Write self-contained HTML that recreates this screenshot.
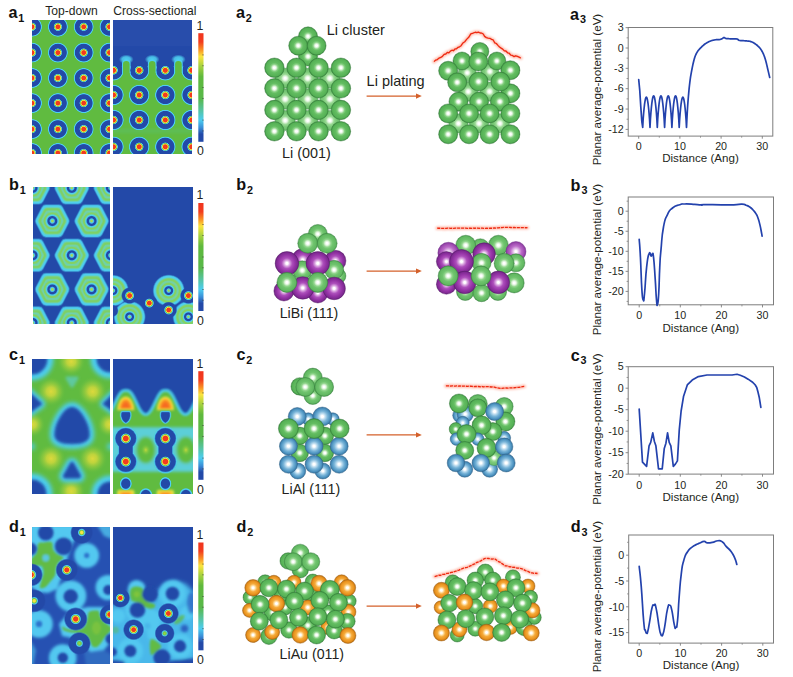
<!DOCTYPE html><html><head><meta charset="utf-8"><title>figure</title><style>html,body{margin:0;padding:0;background:#fff}svg{display:block}text{font-family:"Liberation Sans", sans-serif}</style></head><body>
<svg width="793" height="677" viewBox="0 0 793 677">
<defs><radialGradient id="gLi" cx="0.5" cy="0.5" r="0.5"><stop offset="0" stop-color="#ffffff"/><stop offset="0.1" stop-color="#ffffff"/><stop offset="0.22" stop-color="#d4efd0"/><stop offset="0.36" stop-color="#88d084"/><stop offset="0.52" stop-color="#63bd61"/><stop offset="0.85" stop-color="#56b156"/><stop offset="0.94" stop-color="#459b49"/><stop offset="1" stop-color="#36823b"/></radialGradient><radialGradient id="gLiB" cx="0.5" cy="0.5" r="0.5"><stop offset="0" stop-color="#ffffff"/><stop offset="0.1" stop-color="#ffffff"/><stop offset="0.24" stop-color="#dcf3d8"/><stop offset="0.4" stop-color="#9ad995"/><stop offset="0.6" stop-color="#7dcb7a"/><stop offset="0.88" stop-color="#6fc06f"/><stop offset="1" stop-color="#5cac5f"/></radialGradient><radialGradient id="gLiM" cx="0.5" cy="0.5" r="0.5"><stop offset="0" stop-color="#ffffff"/><stop offset="0.1" stop-color="#ffffff"/><stop offset="0.23" stop-color="#d8f1d4"/><stop offset="0.38" stop-color="#92d58d"/><stop offset="0.56" stop-color="#70c46e"/><stop offset="0.86" stop-color="#62b862"/><stop offset="0.95" stop-color="#50a353"/><stop offset="1" stop-color="#428d46"/></radialGradient><radialGradient id="gBi" cx="0.5" cy="0.5" r="0.5"><stop offset="0" stop-color="#ffffff"/><stop offset="0.09" stop-color="#ffffff"/><stop offset="0.24" stop-color="#dcaae2"/><stop offset="0.45" stop-color="#ad4fbb"/><stop offset="0.7" stop-color="#9534a6"/><stop offset="0.9" stop-color="#7f2a92"/><stop offset="1" stop-color="#66207a"/></radialGradient><radialGradient id="gBiB" cx="0.5" cy="0.5" r="0.5"><stop offset="0" stop-color="#ffffff"/><stop offset="0.1" stop-color="#ffffff"/><stop offset="0.28" stop-color="#e4c0ea"/><stop offset="0.55" stop-color="#bb6cc8"/><stop offset="0.8" stop-color="#a34fb4"/><stop offset="0.93" stop-color="#9040a2"/><stop offset="1" stop-color="#80359a"/></radialGradient><radialGradient id="gAl" cx="0.5" cy="0.5" r="0.5"><stop offset="0" stop-color="#ffffff"/><stop offset="0.12" stop-color="#ffffff"/><stop offset="0.3" stop-color="#c0def0"/><stop offset="0.55" stop-color="#78b4d8"/><stop offset="0.8" stop-color="#4f95c2"/><stop offset="0.93" stop-color="#3f7fac"/><stop offset="1" stop-color="#356e98"/></radialGradient><radialGradient id="gAu" cx="0.5" cy="0.5" r="0.5"><stop offset="0" stop-color="#ffffff"/><stop offset="0.12" stop-color="#ffffff"/><stop offset="0.26" stop-color="#ffe2a8"/><stop offset="0.48" stop-color="#f5ab3c"/><stop offset="0.78" stop-color="#ea931e"/><stop offset="0.93" stop-color="#cc7c17"/><stop offset="1" stop-color="#b06810"/></radialGradient><linearGradient id="cbar" x1="0" y1="0" x2="0" y2="1"><stop offset="0" stop-color="#f0341e"/><stop offset="0.08" stop-color="#f23c1e"/><stop offset="0.15" stop-color="#f98f24"/><stop offset="0.215" stop-color="#fbe43e"/><stop offset="0.30" stop-color="#a9d33f"/><stop offset="0.40" stop-color="#5fb93d"/><stop offset="0.60" stop-color="#58b84a"/><stop offset="0.70" stop-color="#56c39a"/><stop offset="0.80" stop-color="#4ccdf0"/><stop offset="0.87" stop-color="#3a8fd8"/><stop offset="0.93" stop-color="#2349a8"/><stop offset="1" stop-color="#2349a8"/></linearGradient><filter id="glow" filterUnits="userSpaceOnUse" x="0" y="0" width="793" height="677"><feGaussianBlur stdDeviation="1.1"/></filter><filter id="b03" filterUnits="userSpaceOnUse" x="0" y="0" width="793" height="677"><feGaussianBlur stdDeviation="0.85"/></filter><filter id="b05" filterUnits="userSpaceOnUse" x="0" y="0" width="793" height="677"><feGaussianBlur stdDeviation="0.85"/></filter><filter id="b07" filterUnits="userSpaceOnUse" x="0" y="0" width="793" height="677"><feGaussianBlur stdDeviation="0.9"/></filter><filter id="b1" filterUnits="userSpaceOnUse" x="0" y="0" width="793" height="677"><feGaussianBlur stdDeviation="1.0"/></filter><filter id="b15" filterUnits="userSpaceOnUse" x="0" y="0" width="793" height="677"><feGaussianBlur stdDeviation="1.5"/></filter><filter id="b2" filterUnits="userSpaceOnUse" x="0" y="0" width="793" height="677"><feGaussianBlur stdDeviation="2.0"/></filter><filter id="b25" filterUnits="userSpaceOnUse" x="0" y="0" width="793" height="677"><feGaussianBlur stdDeviation="2.5"/></filter><filter id="b3" filterUnits="userSpaceOnUse" x="0" y="0" width="793" height="677"><feGaussianBlur stdDeviation="3.0"/></filter><clipPath id="cpa1T"><rect x="32" y="20" width="78" height="134"/></clipPath><clipPath id="cpa1C"><rect x="113" y="20" width="79" height="134"/></clipPath><clipPath id="cpb1T"><rect x="33" y="187" width="77" height="137"/></clipPath><clipPath id="cpb1C"><rect x="113" y="187" width="80" height="137"/></clipPath><clipPath id="cpc1T"><rect x="32" y="359" width="78" height="135"/></clipPath><clipPath id="cpc1C"><rect x="113" y="359" width="80" height="135"/></clipPath><clipPath id="cpd1T"><rect x="32" y="527" width="78" height="137"/></clipPath><clipPath id="cpd1C"><rect x="113" y="527" width="80" height="136"/></clipPath><radialGradient id="eA"><stop offset="0" stop-color="#f23a1e"/><stop offset="0.19" stop-color="#f23a1e"/><stop offset="0.265" stop-color="#f7e542"/><stop offset="0.325" stop-color="#7cc840"/><stop offset="0.375" stop-color="#4ecff0"/><stop offset="0.43" stop-color="#2349a8"/><stop offset="0.82" stop-color="#2349a8"/><stop offset="0.895" stop-color="#4ecff0"/><stop offset="0.93" stop-color="#4ecff0"/><stop offset="1" stop-color="#5cc8a0" stop-opacity="0"/></radialGradient><radialGradient id="eA2"><stop offset="0" stop-color="#f23a1e"/><stop offset="0.23" stop-color="#f23a1e"/><stop offset="0.32" stop-color="#f7e542"/><stop offset="0.39" stop-color="#7cc840"/><stop offset="0.45" stop-color="#4ecff0"/><stop offset="0.52" stop-color="#2349a8"/><stop offset="0.97" stop-color="#2349a8"/><stop offset="1" stop-color="#2349a8" stop-opacity="0"/></radialGradient><radialGradient id="eB"><stop offset="0" stop-color="#f23a1e"/><stop offset="0.23" stop-color="#f23a1e"/><stop offset="0.32" stop-color="#f7e542"/><stop offset="0.39" stop-color="#7cc840"/><stop offset="0.46" stop-color="#4ecff0"/><stop offset="0.56" stop-color="#2349a8"/><stop offset="0.84" stop-color="#2349a8"/><stop offset="1" stop-color="#2349a8" stop-opacity="0"/></radialGradient><radialGradient id="eY"><stop offset="0" stop-color="#dcd93c" stop-opacity="1"/><stop offset="0.3" stop-color="#c8d63c" stop-opacity="0.9"/><stop offset="0.65" stop-color="#98cc3e" stop-opacity="0.5"/><stop offset="1" stop-color="#60bb40" stop-opacity="0"/></radialGradient><radialGradient id="eYs"><stop offset="0" stop-color="#c4d83c" stop-opacity="0.95"/><stop offset="0.45" stop-color="#90cc40" stop-opacity="0.6"/><stop offset="1" stop-color="#60bb40" stop-opacity="0"/></radialGradient><radialGradient id="eC"><stop offset="0" stop-color="#4ecff0" stop-opacity="1"/><stop offset="0.55" stop-color="#4ecff0" stop-opacity="0.85"/><stop offset="1" stop-color="#4ecff0" stop-opacity="0"/></radialGradient><radialGradient id="eBl"><stop offset="0" stop-color="#2349a8"/><stop offset="0.78" stop-color="#2349a8"/><stop offset="1" stop-color="#2349a8" stop-opacity="0"/></radialGradient><radialGradient id="eD"><stop offset="0" stop-color="#f23a1e"/><stop offset="0.18" stop-color="#f23a1e"/><stop offset="0.255" stop-color="#f7e542"/><stop offset="0.32" stop-color="#7cc840"/><stop offset="0.38" stop-color="#4ecff0"/><stop offset="0.46" stop-color="#2349a8"/><stop offset="0.86" stop-color="#2349a8"/><stop offset="1" stop-color="#2349a8" stop-opacity="0"/></radialGradient><radialGradient id="eDy"><stop offset="0" stop-color="#f7e542"/><stop offset="0.1" stop-color="#f7e542"/><stop offset="0.19" stop-color="#7cc840"/><stop offset="0.27" stop-color="#4ecff0"/><stop offset="0.36" stop-color="#2349a8"/><stop offset="0.86" stop-color="#2349a8"/><stop offset="1" stop-color="#2349a8" stop-opacity="0"/></radialGradient><radialGradient id="eSb"><stop offset="0" stop-color="#2349a8"/><stop offset="0.66" stop-color="#2349a8"/><stop offset="0.8" stop-color="#4ecff0"/><stop offset="0.88" stop-color="#4ecff0"/><stop offset="1" stop-color="#5cc8a0" stop-opacity="0"/></radialGradient><radialGradient id="eCore"><stop offset="0" stop-color="#f23a1e"/><stop offset="0.44" stop-color="#f23a1e"/><stop offset="0.61" stop-color="#f7e542"/><stop offset="0.75" stop-color="#7cc840"/><stop offset="0.86" stop-color="#4ecff0"/><stop offset="1" stop-color="#2349a8"/></radialGradient><radialGradient id="hexC" gradientUnits="userSpaceOnUse" cx="0" cy="0" r="8.6"><stop offset="0" stop-color="#b4dc40"/><stop offset="0.14" stop-color="#8cd680"/><stop offset="0.21" stop-color="#4ecff0"/><stop offset="0.29" stop-color="#3d99d3"/><stop offset="0.36" stop-color="#2349a8"/><stop offset="0.52" stop-color="#2349a8"/><stop offset="0.58" stop-color="#388ccc"/><stop offset="0.65" stop-color="#4ecff0"/><stop offset="0.74" stop-color="#66d1c0"/><stop offset="0.84" stop-color="#84d262"/><stop offset="1" stop-color="#84d262"/></radialGradient><radialGradient id="blobG"><stop offset="0" stop-color="#b4dc40"/><stop offset="0.06" stop-color="#8cd680"/><stop offset="0.1" stop-color="#4ecff0"/><stop offset="0.13" stop-color="#3d99d3"/><stop offset="0.16" stop-color="#2349a8"/><stop offset="0.24" stop-color="#2349a8"/><stop offset="0.27" stop-color="#388ccc"/><stop offset="0.3" stop-color="#4ecff0"/><stop offset="0.34" stop-color="#66d1c0"/><stop offset="0.38" stop-color="#84d262"/><stop offset="0.45" stop-color="#84d262"/><stop offset="0.49" stop-color="#78d290"/><stop offset="0.54" stop-color="#70d2ac"/><stop offset="0.59" stop-color="#78d298"/><stop offset="0.64" stop-color="#84d262"/><stop offset="0.7" stop-color="#84d262"/><stop offset="0.74" stop-color="#78d284"/><stop offset="0.79" stop-color="#62d1c8"/><stop offset="0.83" stop-color="#4ecff0"/><stop offset="0.87" stop-color="#4ecff0"/><stop offset="0.91" stop-color="#4ecff0" stop-opacity="0.8"/><stop offset="0.95" stop-color="#4ecff0" stop-opacity="0.3"/><stop offset="1" stop-color="#4ecff0" stop-opacity="0"/></radialGradient><radialGradient id="eDg"><stop offset="0" stop-color="#a8d440"/><stop offset="0.08" stop-color="#8ccc40"/><stop offset="0.17" stop-color="#6cc860"/><stop offset="0.25" stop-color="#4ecff0"/><stop offset="0.34" stop-color="#2349a8"/><stop offset="0.86" stop-color="#2349a8"/><stop offset="1" stop-color="#2349a8" stop-opacity="0"/></radialGradient></defs>
<rect width="793" height="677" fill="#ffffff"/>
<g clip-path="url(#cpa1T)" >
<rect x="32" y="20" width="78" height="134" fill="#60bb40"/>
<circle cx="32" cy="26.8" r="10.3" fill="url(#eA)" />
<circle cx="57.9" cy="26.8" r="10.3" fill="url(#eA)" />
<circle cx="83.7" cy="26.8" r="10.3" fill="url(#eA)" />
<circle cx="109.5" cy="26.8" r="10.3" fill="url(#eA)" />
<circle cx="32" cy="52.6" r="10.3" fill="url(#eA)" />
<circle cx="57.9" cy="52.6" r="10.3" fill="url(#eA)" />
<circle cx="83.7" cy="52.6" r="10.3" fill="url(#eA)" />
<circle cx="109.5" cy="52.6" r="10.3" fill="url(#eA)" />
<circle cx="32" cy="78" r="10.3" fill="url(#eA)" />
<circle cx="57.9" cy="78" r="10.3" fill="url(#eA)" />
<circle cx="83.7" cy="78" r="10.3" fill="url(#eA)" />
<circle cx="109.5" cy="78" r="10.3" fill="url(#eA)" />
<circle cx="32" cy="103.1" r="10.3" fill="url(#eA)" />
<circle cx="57.9" cy="103.1" r="10.3" fill="url(#eA)" />
<circle cx="83.7" cy="103.1" r="10.3" fill="url(#eA)" />
<circle cx="109.5" cy="103.1" r="10.3" fill="url(#eA)" />
<circle cx="32" cy="129.1" r="10.3" fill="url(#eA)" />
<circle cx="57.9" cy="129.1" r="10.3" fill="url(#eA)" />
<circle cx="83.7" cy="129.1" r="10.3" fill="url(#eA)" />
<circle cx="109.5" cy="129.1" r="10.3" fill="url(#eA)" />
<circle cx="32" cy="153" r="10.3" fill="url(#eA)" />
<circle cx="57.9" cy="153" r="10.3" fill="url(#eA)" />
<circle cx="83.7" cy="153" r="10.3" fill="url(#eA)" />
<circle cx="109.5" cy="153" r="10.3" fill="url(#eA)" />
</g>
<g clip-path="url(#cpa1C)" >
<rect x="113" y="20" width="79" height="134" fill="#60bb40"/>
<circle cx="113.5" cy="70.3" r="10.6" fill="url(#eA)" />
<circle cx="139.2" cy="70.3" r="10.6" fill="url(#eA)" />
<circle cx="165.3" cy="70.3" r="10.6" fill="url(#eA)" />
<circle cx="191.6" cy="70.3" r="10.6" fill="url(#eA)" />
<rect x="113" y="20" width="79" height="27" fill="#284dab"/>
<rect x="113" y="46.2" width="79" height="20.3" fill="#2349a8"/>
<ellipse cx="126.3" cy="59.4" rx="7.4" ry="4.8" fill="url(#eC)" />
<path d="M122,73 L122,63.5 Q122,59.6 126.3,59.6 Q130.6,59.6 130.6,63.5 L130.6,73 Z" fill="#4ecff0"/>
<path d="M123,74 L123,64.2 Q123,60.9 126.3,60.9 Q129.6,60.9 129.6,64.2 L129.6,74 Z" fill="#60bb40"/>
<ellipse cx="152.2" cy="59.4" rx="7.4" ry="4.8" fill="url(#eC)" />
<path d="M147.9,73 L147.9,63.5 Q147.9,59.6 152.2,59.6 Q156.5,59.6 156.5,63.5 L156.5,73 Z" fill="#4ecff0"/>
<path d="M148.9,74 L148.9,64.2 Q148.9,60.9 152.2,60.9 Q155.5,60.9 155.5,64.2 L155.5,74 Z" fill="#60bb40"/>
<ellipse cx="178.4" cy="59.4" rx="7.4" ry="4.8" fill="url(#eC)" />
<path d="M174.1,73 L174.1,63.5 Q174.1,59.6 178.4,59.6 Q182.7,59.6 182.7,63.5 L182.7,73 Z" fill="#4ecff0"/>
<path d="M175.1,74 L175.1,64.2 Q175.1,60.9 178.4,60.9 Q181.7,60.9 181.7,64.2 L181.7,74 Z" fill="#60bb40"/>
<circle cx="113.5" cy="70.3" r="8.9" fill="url(#eA2)" />
<circle cx="139.2" cy="70.3" r="8.9" fill="url(#eA2)" />
<circle cx="165.3" cy="70.3" r="8.9" fill="url(#eA2)" />
<circle cx="191.6" cy="70.3" r="8.9" fill="url(#eA2)" />
<circle cx="113.5" cy="95" r="10.6" fill="url(#eA)" />
<circle cx="139.2" cy="95" r="10.6" fill="url(#eA)" />
<circle cx="165.3" cy="95" r="10.6" fill="url(#eA)" />
<circle cx="191.6" cy="95" r="10.6" fill="url(#eA)" />
<circle cx="113.5" cy="120" r="10.6" fill="url(#eA)" />
<circle cx="139.2" cy="120" r="10.6" fill="url(#eA)" />
<circle cx="165.3" cy="120" r="10.6" fill="url(#eA)" />
<circle cx="191.6" cy="120" r="10.6" fill="url(#eA)" />
<circle cx="113.5" cy="146.8" r="10.6" fill="url(#eA)" />
<circle cx="139.2" cy="146.8" r="10.6" fill="url(#eA)" />
<circle cx="165.3" cy="146.8" r="10.6" fill="url(#eA)" />
<circle cx="191.6" cy="146.8" r="10.6" fill="url(#eA)" />
<rect x="113" y="128.5" width="79" height="5" fill="#4ecff0" opacity="0.10" filter="url(#b1)"/>
</g>
<g clip-path="url(#cpb1T)" >
<rect x="33" y="187" width="77" height="137" fill="#2349a8"/>
<g transform="translate(32.6,187.9)"><polygon points="-13.29,0 -6.8,-12.49 6.8,-12.49 13.29,0 6.8,12.49 -6.8,12.49" fill="#2857b0" stroke="#2857b0" stroke-width="9.2" stroke-linejoin="round"/><polygon points="-12.94,0 -6.62,-12.16 6.62,-12.16 12.94,0 6.62,12.16 -6.62,12.16" fill="#2d68b9" stroke="#2d68b9" stroke-width="9.2" stroke-linejoin="round"/><polygon points="-12.59,0 -6.45,-11.83 6.45,-11.83 12.59,0 6.45,11.83 -6.45,11.83" fill="#3684c8" stroke="#3684c8" stroke-width="9.2" stroke-linejoin="round"/><polygon points="-12.24,0 -6.27,-11.5 6.27,-11.5 12.24,0 6.27,11.5 -6.27,11.5" fill="#40a3d8" stroke="#40a3d8" stroke-width="9.2" stroke-linejoin="round"/><polygon points="-11.89,0 -6.09,-11.17 6.09,-11.17 11.89,0 6.09,11.17 -6.09,11.17" fill="#47b8e3" stroke="#47b8e3" stroke-width="9.2" stroke-linejoin="round"/><polygon points="-11.6,0 -5.94,-10.9 5.94,-10.9 11.6,0 5.94,10.9 -5.94,10.9" fill="#4dccee" stroke="#4dccee" stroke-width="9.1" stroke-linejoin="round"/><polygon points="-11.36,0 -5.81,-10.67 5.81,-10.67 11.36,0 5.81,10.67 -5.81,10.67" fill="#4ecff0" stroke="#4ecff0" stroke-width="8.91" stroke-linejoin="round"/><polygon points="-11.11,0 -5.69,-10.45 5.69,-10.45 11.11,0 5.69,10.45 -5.69,10.45" fill="#4ecff0" stroke="#4ecff0" stroke-width="8.72" stroke-linejoin="round"/><polygon points="-10.87,0 -5.57,-10.22 5.57,-10.22 10.87,0 5.57,10.22 -5.57,10.22" fill="#52cfe7" stroke="#52cfe7" stroke-width="8.53" stroke-linejoin="round"/><polygon points="-10.63,0 -5.44,-10 5.44,-10 10.63,0 5.44,10 -5.44,10" fill="#5ad0d8" stroke="#5ad0d8" stroke-width="8.34" stroke-linejoin="round"/><polygon points="-10.39,0 -5.32,-9.77 5.32,-9.77 10.39,0 5.32,9.77 -5.32,9.77" fill="#62d1c8" stroke="#62d1c8" stroke-width="8.15" stroke-linejoin="round"/><polygon points="-10.15,0 -5.2,-9.54 5.2,-9.54 10.15,0 5.2,9.54 -5.2,9.54" fill="#6cd1aa" stroke="#6cd1aa" stroke-width="7.96" stroke-linejoin="round"/><polygon points="-9.77,0 -5,-9.19 5,-9.19 9.77,0 5,9.19 -5,9.19" fill="#79d280" stroke="#79d280" stroke-width="7.67" stroke-linejoin="round"/><polygon points="-9.39,0 -4.81,-8.83 4.81,-8.83 9.39,0 4.81,8.83 -4.81,8.83" fill="#7dd06c" stroke="#7dd06c" stroke-width="7.37" stroke-linejoin="round"/><polygon points="-9.02,0 -4.62,-8.47 4.62,-8.47 9.02,0 4.62,8.47 -4.62,8.47" fill="#7ed066" stroke="#7ed066" stroke-width="7.07" stroke-linejoin="round"/><polygon points="-8.64,0 -4.42,-8.12 4.42,-8.12 8.64,0 4.42,8.12 -4.42,8.12" fill="#7ed066" stroke="#7ed066" stroke-width="6.78" stroke-linejoin="round"/><polygon points="-8.26,0 -4.23,-7.76 4.23,-7.76 8.26,0 4.23,7.76 -4.23,7.76" fill="#7bd179" stroke="#7bd179" stroke-width="6.48" stroke-linejoin="round"/><polygon points="-7.88,0 -4.03,-7.41 4.03,-7.41 7.88,0 4.03,7.41 -4.03,7.41" fill="#75d29d" stroke="#75d29d" stroke-width="6.18" stroke-linejoin="round"/><polygon points="-7.5,0 -3.84,-7.05 3.84,-7.05 7.5,0 3.84,7.05 -3.84,7.05" fill="#70d2aa" stroke="#70d2aa" stroke-width="5.89" stroke-linejoin="round"/><polygon points="-7.12,0 -3.65,-6.7 3.65,-6.7 7.12,0 3.65,6.7 -3.65,6.7" fill="#6cd2b2" stroke="#6cd2b2" stroke-width="5.59" stroke-linejoin="round"/><polygon points="-6.74,0 -3.45,-6.34 3.45,-6.34 6.74,0 3.45,6.34 -3.45,6.34" fill="#71d2a1" stroke="#71d2a1" stroke-width="5.29" stroke-linejoin="round"/><polygon points="-6.37,0 -3.26,-5.98 3.26,-5.98 6.37,0 3.26,5.98 -3.26,5.98" fill="#78d289" stroke="#78d289" stroke-width="4.99" stroke-linejoin="round"/><circle r="8.6" fill="url(#hexC)"/></g>
<g transform="translate(71.8,187.9)"><polygon points="-13.29,0 -6.8,-12.49 6.8,-12.49 13.29,0 6.8,12.49 -6.8,12.49" fill="#2857b0" stroke="#2857b0" stroke-width="9.2" stroke-linejoin="round"/><polygon points="-12.94,0 -6.62,-12.16 6.62,-12.16 12.94,0 6.62,12.16 -6.62,12.16" fill="#2d68b9" stroke="#2d68b9" stroke-width="9.2" stroke-linejoin="round"/><polygon points="-12.59,0 -6.45,-11.83 6.45,-11.83 12.59,0 6.45,11.83 -6.45,11.83" fill="#3684c8" stroke="#3684c8" stroke-width="9.2" stroke-linejoin="round"/><polygon points="-12.24,0 -6.27,-11.5 6.27,-11.5 12.24,0 6.27,11.5 -6.27,11.5" fill="#40a3d8" stroke="#40a3d8" stroke-width="9.2" stroke-linejoin="round"/><polygon points="-11.89,0 -6.09,-11.17 6.09,-11.17 11.89,0 6.09,11.17 -6.09,11.17" fill="#47b8e3" stroke="#47b8e3" stroke-width="9.2" stroke-linejoin="round"/><polygon points="-11.6,0 -5.94,-10.9 5.94,-10.9 11.6,0 5.94,10.9 -5.94,10.9" fill="#4dccee" stroke="#4dccee" stroke-width="9.1" stroke-linejoin="round"/><polygon points="-11.36,0 -5.81,-10.67 5.81,-10.67 11.36,0 5.81,10.67 -5.81,10.67" fill="#4ecff0" stroke="#4ecff0" stroke-width="8.91" stroke-linejoin="round"/><polygon points="-11.11,0 -5.69,-10.45 5.69,-10.45 11.11,0 5.69,10.45 -5.69,10.45" fill="#4ecff0" stroke="#4ecff0" stroke-width="8.72" stroke-linejoin="round"/><polygon points="-10.87,0 -5.57,-10.22 5.57,-10.22 10.87,0 5.57,10.22 -5.57,10.22" fill="#52cfe7" stroke="#52cfe7" stroke-width="8.53" stroke-linejoin="round"/><polygon points="-10.63,0 -5.44,-10 5.44,-10 10.63,0 5.44,10 -5.44,10" fill="#5ad0d8" stroke="#5ad0d8" stroke-width="8.34" stroke-linejoin="round"/><polygon points="-10.39,0 -5.32,-9.77 5.32,-9.77 10.39,0 5.32,9.77 -5.32,9.77" fill="#62d1c8" stroke="#62d1c8" stroke-width="8.15" stroke-linejoin="round"/><polygon points="-10.15,0 -5.2,-9.54 5.2,-9.54 10.15,0 5.2,9.54 -5.2,9.54" fill="#6cd1aa" stroke="#6cd1aa" stroke-width="7.96" stroke-linejoin="round"/><polygon points="-9.77,0 -5,-9.19 5,-9.19 9.77,0 5,9.19 -5,9.19" fill="#79d280" stroke="#79d280" stroke-width="7.67" stroke-linejoin="round"/><polygon points="-9.39,0 -4.81,-8.83 4.81,-8.83 9.39,0 4.81,8.83 -4.81,8.83" fill="#7dd06c" stroke="#7dd06c" stroke-width="7.37" stroke-linejoin="round"/><polygon points="-9.02,0 -4.62,-8.47 4.62,-8.47 9.02,0 4.62,8.47 -4.62,8.47" fill="#7ed066" stroke="#7ed066" stroke-width="7.07" stroke-linejoin="round"/><polygon points="-8.64,0 -4.42,-8.12 4.42,-8.12 8.64,0 4.42,8.12 -4.42,8.12" fill="#7ed066" stroke="#7ed066" stroke-width="6.78" stroke-linejoin="round"/><polygon points="-8.26,0 -4.23,-7.76 4.23,-7.76 8.26,0 4.23,7.76 -4.23,7.76" fill="#7bd179" stroke="#7bd179" stroke-width="6.48" stroke-linejoin="round"/><polygon points="-7.88,0 -4.03,-7.41 4.03,-7.41 7.88,0 4.03,7.41 -4.03,7.41" fill="#75d29d" stroke="#75d29d" stroke-width="6.18" stroke-linejoin="round"/><polygon points="-7.5,0 -3.84,-7.05 3.84,-7.05 7.5,0 3.84,7.05 -3.84,7.05" fill="#70d2aa" stroke="#70d2aa" stroke-width="5.89" stroke-linejoin="round"/><polygon points="-7.12,0 -3.65,-6.7 3.65,-6.7 7.12,0 3.65,6.7 -3.65,6.7" fill="#6cd2b2" stroke="#6cd2b2" stroke-width="5.59" stroke-linejoin="round"/><polygon points="-6.74,0 -3.45,-6.34 3.45,-6.34 6.74,0 3.45,6.34 -3.45,6.34" fill="#71d2a1" stroke="#71d2a1" stroke-width="5.29" stroke-linejoin="round"/><polygon points="-6.37,0 -3.26,-5.98 3.26,-5.98 6.37,0 3.26,5.98 -3.26,5.98" fill="#78d289" stroke="#78d289" stroke-width="4.99" stroke-linejoin="round"/><circle r="8.6" fill="url(#hexC)"/></g>
<g transform="translate(110.9,187.9)"><polygon points="-13.29,0 -6.8,-12.49 6.8,-12.49 13.29,0 6.8,12.49 -6.8,12.49" fill="#2857b0" stroke="#2857b0" stroke-width="9.2" stroke-linejoin="round"/><polygon points="-12.94,0 -6.62,-12.16 6.62,-12.16 12.94,0 6.62,12.16 -6.62,12.16" fill="#2d68b9" stroke="#2d68b9" stroke-width="9.2" stroke-linejoin="round"/><polygon points="-12.59,0 -6.45,-11.83 6.45,-11.83 12.59,0 6.45,11.83 -6.45,11.83" fill="#3684c8" stroke="#3684c8" stroke-width="9.2" stroke-linejoin="round"/><polygon points="-12.24,0 -6.27,-11.5 6.27,-11.5 12.24,0 6.27,11.5 -6.27,11.5" fill="#40a3d8" stroke="#40a3d8" stroke-width="9.2" stroke-linejoin="round"/><polygon points="-11.89,0 -6.09,-11.17 6.09,-11.17 11.89,0 6.09,11.17 -6.09,11.17" fill="#47b8e3" stroke="#47b8e3" stroke-width="9.2" stroke-linejoin="round"/><polygon points="-11.6,0 -5.94,-10.9 5.94,-10.9 11.6,0 5.94,10.9 -5.94,10.9" fill="#4dccee" stroke="#4dccee" stroke-width="9.1" stroke-linejoin="round"/><polygon points="-11.36,0 -5.81,-10.67 5.81,-10.67 11.36,0 5.81,10.67 -5.81,10.67" fill="#4ecff0" stroke="#4ecff0" stroke-width="8.91" stroke-linejoin="round"/><polygon points="-11.11,0 -5.69,-10.45 5.69,-10.45 11.11,0 5.69,10.45 -5.69,10.45" fill="#4ecff0" stroke="#4ecff0" stroke-width="8.72" stroke-linejoin="round"/><polygon points="-10.87,0 -5.57,-10.22 5.57,-10.22 10.87,0 5.57,10.22 -5.57,10.22" fill="#52cfe7" stroke="#52cfe7" stroke-width="8.53" stroke-linejoin="round"/><polygon points="-10.63,0 -5.44,-10 5.44,-10 10.63,0 5.44,10 -5.44,10" fill="#5ad0d8" stroke="#5ad0d8" stroke-width="8.34" stroke-linejoin="round"/><polygon points="-10.39,0 -5.32,-9.77 5.32,-9.77 10.39,0 5.32,9.77 -5.32,9.77" fill="#62d1c8" stroke="#62d1c8" stroke-width="8.15" stroke-linejoin="round"/><polygon points="-10.15,0 -5.2,-9.54 5.2,-9.54 10.15,0 5.2,9.54 -5.2,9.54" fill="#6cd1aa" stroke="#6cd1aa" stroke-width="7.96" stroke-linejoin="round"/><polygon points="-9.77,0 -5,-9.19 5,-9.19 9.77,0 5,9.19 -5,9.19" fill="#79d280" stroke="#79d280" stroke-width="7.67" stroke-linejoin="round"/><polygon points="-9.39,0 -4.81,-8.83 4.81,-8.83 9.39,0 4.81,8.83 -4.81,8.83" fill="#7dd06c" stroke="#7dd06c" stroke-width="7.37" stroke-linejoin="round"/><polygon points="-9.02,0 -4.62,-8.47 4.62,-8.47 9.02,0 4.62,8.47 -4.62,8.47" fill="#7ed066" stroke="#7ed066" stroke-width="7.07" stroke-linejoin="round"/><polygon points="-8.64,0 -4.42,-8.12 4.42,-8.12 8.64,0 4.42,8.12 -4.42,8.12" fill="#7ed066" stroke="#7ed066" stroke-width="6.78" stroke-linejoin="round"/><polygon points="-8.26,0 -4.23,-7.76 4.23,-7.76 8.26,0 4.23,7.76 -4.23,7.76" fill="#7bd179" stroke="#7bd179" stroke-width="6.48" stroke-linejoin="round"/><polygon points="-7.88,0 -4.03,-7.41 4.03,-7.41 7.88,0 4.03,7.41 -4.03,7.41" fill="#75d29d" stroke="#75d29d" stroke-width="6.18" stroke-linejoin="round"/><polygon points="-7.5,0 -3.84,-7.05 3.84,-7.05 7.5,0 3.84,7.05 -3.84,7.05" fill="#70d2aa" stroke="#70d2aa" stroke-width="5.89" stroke-linejoin="round"/><polygon points="-7.12,0 -3.65,-6.7 3.65,-6.7 7.12,0 3.65,6.7 -3.65,6.7" fill="#6cd2b2" stroke="#6cd2b2" stroke-width="5.59" stroke-linejoin="round"/><polygon points="-6.74,0 -3.45,-6.34 3.45,-6.34 6.74,0 3.45,6.34 -3.45,6.34" fill="#71d2a1" stroke="#71d2a1" stroke-width="5.29" stroke-linejoin="round"/><polygon points="-6.37,0 -3.26,-5.98 3.26,-5.98 6.37,0 3.26,5.98 -3.26,5.98" fill="#78d289" stroke="#78d289" stroke-width="4.99" stroke-linejoin="round"/><circle r="8.6" fill="url(#hexC)"/></g>
<g transform="translate(52.3,221)"><polygon points="-13.29,0 -6.8,-12.49 6.8,-12.49 13.29,0 6.8,12.49 -6.8,12.49" fill="#2857b0" stroke="#2857b0" stroke-width="9.2" stroke-linejoin="round"/><polygon points="-12.94,0 -6.62,-12.16 6.62,-12.16 12.94,0 6.62,12.16 -6.62,12.16" fill="#2d68b9" stroke="#2d68b9" stroke-width="9.2" stroke-linejoin="round"/><polygon points="-12.59,0 -6.45,-11.83 6.45,-11.83 12.59,0 6.45,11.83 -6.45,11.83" fill="#3684c8" stroke="#3684c8" stroke-width="9.2" stroke-linejoin="round"/><polygon points="-12.24,0 -6.27,-11.5 6.27,-11.5 12.24,0 6.27,11.5 -6.27,11.5" fill="#40a3d8" stroke="#40a3d8" stroke-width="9.2" stroke-linejoin="round"/><polygon points="-11.89,0 -6.09,-11.17 6.09,-11.17 11.89,0 6.09,11.17 -6.09,11.17" fill="#47b8e3" stroke="#47b8e3" stroke-width="9.2" stroke-linejoin="round"/><polygon points="-11.6,0 -5.94,-10.9 5.94,-10.9 11.6,0 5.94,10.9 -5.94,10.9" fill="#4dccee" stroke="#4dccee" stroke-width="9.1" stroke-linejoin="round"/><polygon points="-11.36,0 -5.81,-10.67 5.81,-10.67 11.36,0 5.81,10.67 -5.81,10.67" fill="#4ecff0" stroke="#4ecff0" stroke-width="8.91" stroke-linejoin="round"/><polygon points="-11.11,0 -5.69,-10.45 5.69,-10.45 11.11,0 5.69,10.45 -5.69,10.45" fill="#4ecff0" stroke="#4ecff0" stroke-width="8.72" stroke-linejoin="round"/><polygon points="-10.87,0 -5.57,-10.22 5.57,-10.22 10.87,0 5.57,10.22 -5.57,10.22" fill="#52cfe7" stroke="#52cfe7" stroke-width="8.53" stroke-linejoin="round"/><polygon points="-10.63,0 -5.44,-10 5.44,-10 10.63,0 5.44,10 -5.44,10" fill="#5ad0d8" stroke="#5ad0d8" stroke-width="8.34" stroke-linejoin="round"/><polygon points="-10.39,0 -5.32,-9.77 5.32,-9.77 10.39,0 5.32,9.77 -5.32,9.77" fill="#62d1c8" stroke="#62d1c8" stroke-width="8.15" stroke-linejoin="round"/><polygon points="-10.15,0 -5.2,-9.54 5.2,-9.54 10.15,0 5.2,9.54 -5.2,9.54" fill="#6cd1aa" stroke="#6cd1aa" stroke-width="7.96" stroke-linejoin="round"/><polygon points="-9.77,0 -5,-9.19 5,-9.19 9.77,0 5,9.19 -5,9.19" fill="#79d280" stroke="#79d280" stroke-width="7.67" stroke-linejoin="round"/><polygon points="-9.39,0 -4.81,-8.83 4.81,-8.83 9.39,0 4.81,8.83 -4.81,8.83" fill="#7dd06c" stroke="#7dd06c" stroke-width="7.37" stroke-linejoin="round"/><polygon points="-9.02,0 -4.62,-8.47 4.62,-8.47 9.02,0 4.62,8.47 -4.62,8.47" fill="#7ed066" stroke="#7ed066" stroke-width="7.07" stroke-linejoin="round"/><polygon points="-8.64,0 -4.42,-8.12 4.42,-8.12 8.64,0 4.42,8.12 -4.42,8.12" fill="#7ed066" stroke="#7ed066" stroke-width="6.78" stroke-linejoin="round"/><polygon points="-8.26,0 -4.23,-7.76 4.23,-7.76 8.26,0 4.23,7.76 -4.23,7.76" fill="#7bd179" stroke="#7bd179" stroke-width="6.48" stroke-linejoin="round"/><polygon points="-7.88,0 -4.03,-7.41 4.03,-7.41 7.88,0 4.03,7.41 -4.03,7.41" fill="#75d29d" stroke="#75d29d" stroke-width="6.18" stroke-linejoin="round"/><polygon points="-7.5,0 -3.84,-7.05 3.84,-7.05 7.5,0 3.84,7.05 -3.84,7.05" fill="#70d2aa" stroke="#70d2aa" stroke-width="5.89" stroke-linejoin="round"/><polygon points="-7.12,0 -3.65,-6.7 3.65,-6.7 7.12,0 3.65,6.7 -3.65,6.7" fill="#6cd2b2" stroke="#6cd2b2" stroke-width="5.59" stroke-linejoin="round"/><polygon points="-6.74,0 -3.45,-6.34 3.45,-6.34 6.74,0 3.45,6.34 -3.45,6.34" fill="#71d2a1" stroke="#71d2a1" stroke-width="5.29" stroke-linejoin="round"/><polygon points="-6.37,0 -3.26,-5.98 3.26,-5.98 6.37,0 3.26,5.98 -3.26,5.98" fill="#78d289" stroke="#78d289" stroke-width="4.99" stroke-linejoin="round"/><circle r="8.6" fill="url(#hexC)"/></g>
<g transform="translate(91.6,221)"><polygon points="-13.29,0 -6.8,-12.49 6.8,-12.49 13.29,0 6.8,12.49 -6.8,12.49" fill="#2857b0" stroke="#2857b0" stroke-width="9.2" stroke-linejoin="round"/><polygon points="-12.94,0 -6.62,-12.16 6.62,-12.16 12.94,0 6.62,12.16 -6.62,12.16" fill="#2d68b9" stroke="#2d68b9" stroke-width="9.2" stroke-linejoin="round"/><polygon points="-12.59,0 -6.45,-11.83 6.45,-11.83 12.59,0 6.45,11.83 -6.45,11.83" fill="#3684c8" stroke="#3684c8" stroke-width="9.2" stroke-linejoin="round"/><polygon points="-12.24,0 -6.27,-11.5 6.27,-11.5 12.24,0 6.27,11.5 -6.27,11.5" fill="#40a3d8" stroke="#40a3d8" stroke-width="9.2" stroke-linejoin="round"/><polygon points="-11.89,0 -6.09,-11.17 6.09,-11.17 11.89,0 6.09,11.17 -6.09,11.17" fill="#47b8e3" stroke="#47b8e3" stroke-width="9.2" stroke-linejoin="round"/><polygon points="-11.6,0 -5.94,-10.9 5.94,-10.9 11.6,0 5.94,10.9 -5.94,10.9" fill="#4dccee" stroke="#4dccee" stroke-width="9.1" stroke-linejoin="round"/><polygon points="-11.36,0 -5.81,-10.67 5.81,-10.67 11.36,0 5.81,10.67 -5.81,10.67" fill="#4ecff0" stroke="#4ecff0" stroke-width="8.91" stroke-linejoin="round"/><polygon points="-11.11,0 -5.69,-10.45 5.69,-10.45 11.11,0 5.69,10.45 -5.69,10.45" fill="#4ecff0" stroke="#4ecff0" stroke-width="8.72" stroke-linejoin="round"/><polygon points="-10.87,0 -5.57,-10.22 5.57,-10.22 10.87,0 5.57,10.22 -5.57,10.22" fill="#52cfe7" stroke="#52cfe7" stroke-width="8.53" stroke-linejoin="round"/><polygon points="-10.63,0 -5.44,-10 5.44,-10 10.63,0 5.44,10 -5.44,10" fill="#5ad0d8" stroke="#5ad0d8" stroke-width="8.34" stroke-linejoin="round"/><polygon points="-10.39,0 -5.32,-9.77 5.32,-9.77 10.39,0 5.32,9.77 -5.32,9.77" fill="#62d1c8" stroke="#62d1c8" stroke-width="8.15" stroke-linejoin="round"/><polygon points="-10.15,0 -5.2,-9.54 5.2,-9.54 10.15,0 5.2,9.54 -5.2,9.54" fill="#6cd1aa" stroke="#6cd1aa" stroke-width="7.96" stroke-linejoin="round"/><polygon points="-9.77,0 -5,-9.19 5,-9.19 9.77,0 5,9.19 -5,9.19" fill="#79d280" stroke="#79d280" stroke-width="7.67" stroke-linejoin="round"/><polygon points="-9.39,0 -4.81,-8.83 4.81,-8.83 9.39,0 4.81,8.83 -4.81,8.83" fill="#7dd06c" stroke="#7dd06c" stroke-width="7.37" stroke-linejoin="round"/><polygon points="-9.02,0 -4.62,-8.47 4.62,-8.47 9.02,0 4.62,8.47 -4.62,8.47" fill="#7ed066" stroke="#7ed066" stroke-width="7.07" stroke-linejoin="round"/><polygon points="-8.64,0 -4.42,-8.12 4.42,-8.12 8.64,0 4.42,8.12 -4.42,8.12" fill="#7ed066" stroke="#7ed066" stroke-width="6.78" stroke-linejoin="round"/><polygon points="-8.26,0 -4.23,-7.76 4.23,-7.76 8.26,0 4.23,7.76 -4.23,7.76" fill="#7bd179" stroke="#7bd179" stroke-width="6.48" stroke-linejoin="round"/><polygon points="-7.88,0 -4.03,-7.41 4.03,-7.41 7.88,0 4.03,7.41 -4.03,7.41" fill="#75d29d" stroke="#75d29d" stroke-width="6.18" stroke-linejoin="round"/><polygon points="-7.5,0 -3.84,-7.05 3.84,-7.05 7.5,0 3.84,7.05 -3.84,7.05" fill="#70d2aa" stroke="#70d2aa" stroke-width="5.89" stroke-linejoin="round"/><polygon points="-7.12,0 -3.65,-6.7 3.65,-6.7 7.12,0 3.65,6.7 -3.65,6.7" fill="#6cd2b2" stroke="#6cd2b2" stroke-width="5.59" stroke-linejoin="round"/><polygon points="-6.74,0 -3.45,-6.34 3.45,-6.34 6.74,0 3.45,6.34 -3.45,6.34" fill="#71d2a1" stroke="#71d2a1" stroke-width="5.29" stroke-linejoin="round"/><polygon points="-6.37,0 -3.26,-5.98 3.26,-5.98 6.37,0 3.26,5.98 -3.26,5.98" fill="#78d289" stroke="#78d289" stroke-width="4.99" stroke-linejoin="round"/><circle r="8.6" fill="url(#hexC)"/></g>
<g transform="translate(32.6,255.3)"><polygon points="-13.29,0 -6.8,-12.49 6.8,-12.49 13.29,0 6.8,12.49 -6.8,12.49" fill="#2857b0" stroke="#2857b0" stroke-width="9.2" stroke-linejoin="round"/><polygon points="-12.94,0 -6.62,-12.16 6.62,-12.16 12.94,0 6.62,12.16 -6.62,12.16" fill="#2d68b9" stroke="#2d68b9" stroke-width="9.2" stroke-linejoin="round"/><polygon points="-12.59,0 -6.45,-11.83 6.45,-11.83 12.59,0 6.45,11.83 -6.45,11.83" fill="#3684c8" stroke="#3684c8" stroke-width="9.2" stroke-linejoin="round"/><polygon points="-12.24,0 -6.27,-11.5 6.27,-11.5 12.24,0 6.27,11.5 -6.27,11.5" fill="#40a3d8" stroke="#40a3d8" stroke-width="9.2" stroke-linejoin="round"/><polygon points="-11.89,0 -6.09,-11.17 6.09,-11.17 11.89,0 6.09,11.17 -6.09,11.17" fill="#47b8e3" stroke="#47b8e3" stroke-width="9.2" stroke-linejoin="round"/><polygon points="-11.6,0 -5.94,-10.9 5.94,-10.9 11.6,0 5.94,10.9 -5.94,10.9" fill="#4dccee" stroke="#4dccee" stroke-width="9.1" stroke-linejoin="round"/><polygon points="-11.36,0 -5.81,-10.67 5.81,-10.67 11.36,0 5.81,10.67 -5.81,10.67" fill="#4ecff0" stroke="#4ecff0" stroke-width="8.91" stroke-linejoin="round"/><polygon points="-11.11,0 -5.69,-10.45 5.69,-10.45 11.11,0 5.69,10.45 -5.69,10.45" fill="#4ecff0" stroke="#4ecff0" stroke-width="8.72" stroke-linejoin="round"/><polygon points="-10.87,0 -5.57,-10.22 5.57,-10.22 10.87,0 5.57,10.22 -5.57,10.22" fill="#52cfe7" stroke="#52cfe7" stroke-width="8.53" stroke-linejoin="round"/><polygon points="-10.63,0 -5.44,-10 5.44,-10 10.63,0 5.44,10 -5.44,10" fill="#5ad0d8" stroke="#5ad0d8" stroke-width="8.34" stroke-linejoin="round"/><polygon points="-10.39,0 -5.32,-9.77 5.32,-9.77 10.39,0 5.32,9.77 -5.32,9.77" fill="#62d1c8" stroke="#62d1c8" stroke-width="8.15" stroke-linejoin="round"/><polygon points="-10.15,0 -5.2,-9.54 5.2,-9.54 10.15,0 5.2,9.54 -5.2,9.54" fill="#6cd1aa" stroke="#6cd1aa" stroke-width="7.96" stroke-linejoin="round"/><polygon points="-9.77,0 -5,-9.19 5,-9.19 9.77,0 5,9.19 -5,9.19" fill="#79d280" stroke="#79d280" stroke-width="7.67" stroke-linejoin="round"/><polygon points="-9.39,0 -4.81,-8.83 4.81,-8.83 9.39,0 4.81,8.83 -4.81,8.83" fill="#7dd06c" stroke="#7dd06c" stroke-width="7.37" stroke-linejoin="round"/><polygon points="-9.02,0 -4.62,-8.47 4.62,-8.47 9.02,0 4.62,8.47 -4.62,8.47" fill="#7ed066" stroke="#7ed066" stroke-width="7.07" stroke-linejoin="round"/><polygon points="-8.64,0 -4.42,-8.12 4.42,-8.12 8.64,0 4.42,8.12 -4.42,8.12" fill="#7ed066" stroke="#7ed066" stroke-width="6.78" stroke-linejoin="round"/><polygon points="-8.26,0 -4.23,-7.76 4.23,-7.76 8.26,0 4.23,7.76 -4.23,7.76" fill="#7bd179" stroke="#7bd179" stroke-width="6.48" stroke-linejoin="round"/><polygon points="-7.88,0 -4.03,-7.41 4.03,-7.41 7.88,0 4.03,7.41 -4.03,7.41" fill="#75d29d" stroke="#75d29d" stroke-width="6.18" stroke-linejoin="round"/><polygon points="-7.5,0 -3.84,-7.05 3.84,-7.05 7.5,0 3.84,7.05 -3.84,7.05" fill="#70d2aa" stroke="#70d2aa" stroke-width="5.89" stroke-linejoin="round"/><polygon points="-7.12,0 -3.65,-6.7 3.65,-6.7 7.12,0 3.65,6.7 -3.65,6.7" fill="#6cd2b2" stroke="#6cd2b2" stroke-width="5.59" stroke-linejoin="round"/><polygon points="-6.74,0 -3.45,-6.34 3.45,-6.34 6.74,0 3.45,6.34 -3.45,6.34" fill="#71d2a1" stroke="#71d2a1" stroke-width="5.29" stroke-linejoin="round"/><polygon points="-6.37,0 -3.26,-5.98 3.26,-5.98 6.37,0 3.26,5.98 -3.26,5.98" fill="#78d289" stroke="#78d289" stroke-width="4.99" stroke-linejoin="round"/><circle r="8.6" fill="url(#hexC)"/></g>
<g transform="translate(71.8,255.3)"><polygon points="-13.29,0 -6.8,-12.49 6.8,-12.49 13.29,0 6.8,12.49 -6.8,12.49" fill="#2857b0" stroke="#2857b0" stroke-width="9.2" stroke-linejoin="round"/><polygon points="-12.94,0 -6.62,-12.16 6.62,-12.16 12.94,0 6.62,12.16 -6.62,12.16" fill="#2d68b9" stroke="#2d68b9" stroke-width="9.2" stroke-linejoin="round"/><polygon points="-12.59,0 -6.45,-11.83 6.45,-11.83 12.59,0 6.45,11.83 -6.45,11.83" fill="#3684c8" stroke="#3684c8" stroke-width="9.2" stroke-linejoin="round"/><polygon points="-12.24,0 -6.27,-11.5 6.27,-11.5 12.24,0 6.27,11.5 -6.27,11.5" fill="#40a3d8" stroke="#40a3d8" stroke-width="9.2" stroke-linejoin="round"/><polygon points="-11.89,0 -6.09,-11.17 6.09,-11.17 11.89,0 6.09,11.17 -6.09,11.17" fill="#47b8e3" stroke="#47b8e3" stroke-width="9.2" stroke-linejoin="round"/><polygon points="-11.6,0 -5.94,-10.9 5.94,-10.9 11.6,0 5.94,10.9 -5.94,10.9" fill="#4dccee" stroke="#4dccee" stroke-width="9.1" stroke-linejoin="round"/><polygon points="-11.36,0 -5.81,-10.67 5.81,-10.67 11.36,0 5.81,10.67 -5.81,10.67" fill="#4ecff0" stroke="#4ecff0" stroke-width="8.91" stroke-linejoin="round"/><polygon points="-11.11,0 -5.69,-10.45 5.69,-10.45 11.11,0 5.69,10.45 -5.69,10.45" fill="#4ecff0" stroke="#4ecff0" stroke-width="8.72" stroke-linejoin="round"/><polygon points="-10.87,0 -5.57,-10.22 5.57,-10.22 10.87,0 5.57,10.22 -5.57,10.22" fill="#52cfe7" stroke="#52cfe7" stroke-width="8.53" stroke-linejoin="round"/><polygon points="-10.63,0 -5.44,-10 5.44,-10 10.63,0 5.44,10 -5.44,10" fill="#5ad0d8" stroke="#5ad0d8" stroke-width="8.34" stroke-linejoin="round"/><polygon points="-10.39,0 -5.32,-9.77 5.32,-9.77 10.39,0 5.32,9.77 -5.32,9.77" fill="#62d1c8" stroke="#62d1c8" stroke-width="8.15" stroke-linejoin="round"/><polygon points="-10.15,0 -5.2,-9.54 5.2,-9.54 10.15,0 5.2,9.54 -5.2,9.54" fill="#6cd1aa" stroke="#6cd1aa" stroke-width="7.96" stroke-linejoin="round"/><polygon points="-9.77,0 -5,-9.19 5,-9.19 9.77,0 5,9.19 -5,9.19" fill="#79d280" stroke="#79d280" stroke-width="7.67" stroke-linejoin="round"/><polygon points="-9.39,0 -4.81,-8.83 4.81,-8.83 9.39,0 4.81,8.83 -4.81,8.83" fill="#7dd06c" stroke="#7dd06c" stroke-width="7.37" stroke-linejoin="round"/><polygon points="-9.02,0 -4.62,-8.47 4.62,-8.47 9.02,0 4.62,8.47 -4.62,8.47" fill="#7ed066" stroke="#7ed066" stroke-width="7.07" stroke-linejoin="round"/><polygon points="-8.64,0 -4.42,-8.12 4.42,-8.12 8.64,0 4.42,8.12 -4.42,8.12" fill="#7ed066" stroke="#7ed066" stroke-width="6.78" stroke-linejoin="round"/><polygon points="-8.26,0 -4.23,-7.76 4.23,-7.76 8.26,0 4.23,7.76 -4.23,7.76" fill="#7bd179" stroke="#7bd179" stroke-width="6.48" stroke-linejoin="round"/><polygon points="-7.88,0 -4.03,-7.41 4.03,-7.41 7.88,0 4.03,7.41 -4.03,7.41" fill="#75d29d" stroke="#75d29d" stroke-width="6.18" stroke-linejoin="round"/><polygon points="-7.5,0 -3.84,-7.05 3.84,-7.05 7.5,0 3.84,7.05 -3.84,7.05" fill="#70d2aa" stroke="#70d2aa" stroke-width="5.89" stroke-linejoin="round"/><polygon points="-7.12,0 -3.65,-6.7 3.65,-6.7 7.12,0 3.65,6.7 -3.65,6.7" fill="#6cd2b2" stroke="#6cd2b2" stroke-width="5.59" stroke-linejoin="round"/><polygon points="-6.74,0 -3.45,-6.34 3.45,-6.34 6.74,0 3.45,6.34 -3.45,6.34" fill="#71d2a1" stroke="#71d2a1" stroke-width="5.29" stroke-linejoin="round"/><polygon points="-6.37,0 -3.26,-5.98 3.26,-5.98 6.37,0 3.26,5.98 -3.26,5.98" fill="#78d289" stroke="#78d289" stroke-width="4.99" stroke-linejoin="round"/><circle r="8.6" fill="url(#hexC)"/></g>
<g transform="translate(110.9,255.3)"><polygon points="-13.29,0 -6.8,-12.49 6.8,-12.49 13.29,0 6.8,12.49 -6.8,12.49" fill="#2857b0" stroke="#2857b0" stroke-width="9.2" stroke-linejoin="round"/><polygon points="-12.94,0 -6.62,-12.16 6.62,-12.16 12.94,0 6.62,12.16 -6.62,12.16" fill="#2d68b9" stroke="#2d68b9" stroke-width="9.2" stroke-linejoin="round"/><polygon points="-12.59,0 -6.45,-11.83 6.45,-11.83 12.59,0 6.45,11.83 -6.45,11.83" fill="#3684c8" stroke="#3684c8" stroke-width="9.2" stroke-linejoin="round"/><polygon points="-12.24,0 -6.27,-11.5 6.27,-11.5 12.24,0 6.27,11.5 -6.27,11.5" fill="#40a3d8" stroke="#40a3d8" stroke-width="9.2" stroke-linejoin="round"/><polygon points="-11.89,0 -6.09,-11.17 6.09,-11.17 11.89,0 6.09,11.17 -6.09,11.17" fill="#47b8e3" stroke="#47b8e3" stroke-width="9.2" stroke-linejoin="round"/><polygon points="-11.6,0 -5.94,-10.9 5.94,-10.9 11.6,0 5.94,10.9 -5.94,10.9" fill="#4dccee" stroke="#4dccee" stroke-width="9.1" stroke-linejoin="round"/><polygon points="-11.36,0 -5.81,-10.67 5.81,-10.67 11.36,0 5.81,10.67 -5.81,10.67" fill="#4ecff0" stroke="#4ecff0" stroke-width="8.91" stroke-linejoin="round"/><polygon points="-11.11,0 -5.69,-10.45 5.69,-10.45 11.11,0 5.69,10.45 -5.69,10.45" fill="#4ecff0" stroke="#4ecff0" stroke-width="8.72" stroke-linejoin="round"/><polygon points="-10.87,0 -5.57,-10.22 5.57,-10.22 10.87,0 5.57,10.22 -5.57,10.22" fill="#52cfe7" stroke="#52cfe7" stroke-width="8.53" stroke-linejoin="round"/><polygon points="-10.63,0 -5.44,-10 5.44,-10 10.63,0 5.44,10 -5.44,10" fill="#5ad0d8" stroke="#5ad0d8" stroke-width="8.34" stroke-linejoin="round"/><polygon points="-10.39,0 -5.32,-9.77 5.32,-9.77 10.39,0 5.32,9.77 -5.32,9.77" fill="#62d1c8" stroke="#62d1c8" stroke-width="8.15" stroke-linejoin="round"/><polygon points="-10.15,0 -5.2,-9.54 5.2,-9.54 10.15,0 5.2,9.54 -5.2,9.54" fill="#6cd1aa" stroke="#6cd1aa" stroke-width="7.96" stroke-linejoin="round"/><polygon points="-9.77,0 -5,-9.19 5,-9.19 9.77,0 5,9.19 -5,9.19" fill="#79d280" stroke="#79d280" stroke-width="7.67" stroke-linejoin="round"/><polygon points="-9.39,0 -4.81,-8.83 4.81,-8.83 9.39,0 4.81,8.83 -4.81,8.83" fill="#7dd06c" stroke="#7dd06c" stroke-width="7.37" stroke-linejoin="round"/><polygon points="-9.02,0 -4.62,-8.47 4.62,-8.47 9.02,0 4.62,8.47 -4.62,8.47" fill="#7ed066" stroke="#7ed066" stroke-width="7.07" stroke-linejoin="round"/><polygon points="-8.64,0 -4.42,-8.12 4.42,-8.12 8.64,0 4.42,8.12 -4.42,8.12" fill="#7ed066" stroke="#7ed066" stroke-width="6.78" stroke-linejoin="round"/><polygon points="-8.26,0 -4.23,-7.76 4.23,-7.76 8.26,0 4.23,7.76 -4.23,7.76" fill="#7bd179" stroke="#7bd179" stroke-width="6.48" stroke-linejoin="round"/><polygon points="-7.88,0 -4.03,-7.41 4.03,-7.41 7.88,0 4.03,7.41 -4.03,7.41" fill="#75d29d" stroke="#75d29d" stroke-width="6.18" stroke-linejoin="round"/><polygon points="-7.5,0 -3.84,-7.05 3.84,-7.05 7.5,0 3.84,7.05 -3.84,7.05" fill="#70d2aa" stroke="#70d2aa" stroke-width="5.89" stroke-linejoin="round"/><polygon points="-7.12,0 -3.65,-6.7 3.65,-6.7 7.12,0 3.65,6.7 -3.65,6.7" fill="#6cd2b2" stroke="#6cd2b2" stroke-width="5.59" stroke-linejoin="round"/><polygon points="-6.74,0 -3.45,-6.34 3.45,-6.34 6.74,0 3.45,6.34 -3.45,6.34" fill="#71d2a1" stroke="#71d2a1" stroke-width="5.29" stroke-linejoin="round"/><polygon points="-6.37,0 -3.26,-5.98 3.26,-5.98 6.37,0 3.26,5.98 -3.26,5.98" fill="#78d289" stroke="#78d289" stroke-width="4.99" stroke-linejoin="round"/><circle r="8.6" fill="url(#hexC)"/></g>
<g transform="translate(52.3,289.4)"><polygon points="-13.29,0 -6.8,-12.49 6.8,-12.49 13.29,0 6.8,12.49 -6.8,12.49" fill="#2857b0" stroke="#2857b0" stroke-width="9.2" stroke-linejoin="round"/><polygon points="-12.94,0 -6.62,-12.16 6.62,-12.16 12.94,0 6.62,12.16 -6.62,12.16" fill="#2d68b9" stroke="#2d68b9" stroke-width="9.2" stroke-linejoin="round"/><polygon points="-12.59,0 -6.45,-11.83 6.45,-11.83 12.59,0 6.45,11.83 -6.45,11.83" fill="#3684c8" stroke="#3684c8" stroke-width="9.2" stroke-linejoin="round"/><polygon points="-12.24,0 -6.27,-11.5 6.27,-11.5 12.24,0 6.27,11.5 -6.27,11.5" fill="#40a3d8" stroke="#40a3d8" stroke-width="9.2" stroke-linejoin="round"/><polygon points="-11.89,0 -6.09,-11.17 6.09,-11.17 11.89,0 6.09,11.17 -6.09,11.17" fill="#47b8e3" stroke="#47b8e3" stroke-width="9.2" stroke-linejoin="round"/><polygon points="-11.6,0 -5.94,-10.9 5.94,-10.9 11.6,0 5.94,10.9 -5.94,10.9" fill="#4dccee" stroke="#4dccee" stroke-width="9.1" stroke-linejoin="round"/><polygon points="-11.36,0 -5.81,-10.67 5.81,-10.67 11.36,0 5.81,10.67 -5.81,10.67" fill="#4ecff0" stroke="#4ecff0" stroke-width="8.91" stroke-linejoin="round"/><polygon points="-11.11,0 -5.69,-10.45 5.69,-10.45 11.11,0 5.69,10.45 -5.69,10.45" fill="#4ecff0" stroke="#4ecff0" stroke-width="8.72" stroke-linejoin="round"/><polygon points="-10.87,0 -5.57,-10.22 5.57,-10.22 10.87,0 5.57,10.22 -5.57,10.22" fill="#52cfe7" stroke="#52cfe7" stroke-width="8.53" stroke-linejoin="round"/><polygon points="-10.63,0 -5.44,-10 5.44,-10 10.63,0 5.44,10 -5.44,10" fill="#5ad0d8" stroke="#5ad0d8" stroke-width="8.34" stroke-linejoin="round"/><polygon points="-10.39,0 -5.32,-9.77 5.32,-9.77 10.39,0 5.32,9.77 -5.32,9.77" fill="#62d1c8" stroke="#62d1c8" stroke-width="8.15" stroke-linejoin="round"/><polygon points="-10.15,0 -5.2,-9.54 5.2,-9.54 10.15,0 5.2,9.54 -5.2,9.54" fill="#6cd1aa" stroke="#6cd1aa" stroke-width="7.96" stroke-linejoin="round"/><polygon points="-9.77,0 -5,-9.19 5,-9.19 9.77,0 5,9.19 -5,9.19" fill="#79d280" stroke="#79d280" stroke-width="7.67" stroke-linejoin="round"/><polygon points="-9.39,0 -4.81,-8.83 4.81,-8.83 9.39,0 4.81,8.83 -4.81,8.83" fill="#7dd06c" stroke="#7dd06c" stroke-width="7.37" stroke-linejoin="round"/><polygon points="-9.02,0 -4.62,-8.47 4.62,-8.47 9.02,0 4.62,8.47 -4.62,8.47" fill="#7ed066" stroke="#7ed066" stroke-width="7.07" stroke-linejoin="round"/><polygon points="-8.64,0 -4.42,-8.12 4.42,-8.12 8.64,0 4.42,8.12 -4.42,8.12" fill="#7ed066" stroke="#7ed066" stroke-width="6.78" stroke-linejoin="round"/><polygon points="-8.26,0 -4.23,-7.76 4.23,-7.76 8.26,0 4.23,7.76 -4.23,7.76" fill="#7bd179" stroke="#7bd179" stroke-width="6.48" stroke-linejoin="round"/><polygon points="-7.88,0 -4.03,-7.41 4.03,-7.41 7.88,0 4.03,7.41 -4.03,7.41" fill="#75d29d" stroke="#75d29d" stroke-width="6.18" stroke-linejoin="round"/><polygon points="-7.5,0 -3.84,-7.05 3.84,-7.05 7.5,0 3.84,7.05 -3.84,7.05" fill="#70d2aa" stroke="#70d2aa" stroke-width="5.89" stroke-linejoin="round"/><polygon points="-7.12,0 -3.65,-6.7 3.65,-6.7 7.12,0 3.65,6.7 -3.65,6.7" fill="#6cd2b2" stroke="#6cd2b2" stroke-width="5.59" stroke-linejoin="round"/><polygon points="-6.74,0 -3.45,-6.34 3.45,-6.34 6.74,0 3.45,6.34 -3.45,6.34" fill="#71d2a1" stroke="#71d2a1" stroke-width="5.29" stroke-linejoin="round"/><polygon points="-6.37,0 -3.26,-5.98 3.26,-5.98 6.37,0 3.26,5.98 -3.26,5.98" fill="#78d289" stroke="#78d289" stroke-width="4.99" stroke-linejoin="round"/><circle r="8.6" fill="url(#hexC)"/></g>
<g transform="translate(91.6,289.4)"><polygon points="-13.29,0 -6.8,-12.49 6.8,-12.49 13.29,0 6.8,12.49 -6.8,12.49" fill="#2857b0" stroke="#2857b0" stroke-width="9.2" stroke-linejoin="round"/><polygon points="-12.94,0 -6.62,-12.16 6.62,-12.16 12.94,0 6.62,12.16 -6.62,12.16" fill="#2d68b9" stroke="#2d68b9" stroke-width="9.2" stroke-linejoin="round"/><polygon points="-12.59,0 -6.45,-11.83 6.45,-11.83 12.59,0 6.45,11.83 -6.45,11.83" fill="#3684c8" stroke="#3684c8" stroke-width="9.2" stroke-linejoin="round"/><polygon points="-12.24,0 -6.27,-11.5 6.27,-11.5 12.24,0 6.27,11.5 -6.27,11.5" fill="#40a3d8" stroke="#40a3d8" stroke-width="9.2" stroke-linejoin="round"/><polygon points="-11.89,0 -6.09,-11.17 6.09,-11.17 11.89,0 6.09,11.17 -6.09,11.17" fill="#47b8e3" stroke="#47b8e3" stroke-width="9.2" stroke-linejoin="round"/><polygon points="-11.6,0 -5.94,-10.9 5.94,-10.9 11.6,0 5.94,10.9 -5.94,10.9" fill="#4dccee" stroke="#4dccee" stroke-width="9.1" stroke-linejoin="round"/><polygon points="-11.36,0 -5.81,-10.67 5.81,-10.67 11.36,0 5.81,10.67 -5.81,10.67" fill="#4ecff0" stroke="#4ecff0" stroke-width="8.91" stroke-linejoin="round"/><polygon points="-11.11,0 -5.69,-10.45 5.69,-10.45 11.11,0 5.69,10.45 -5.69,10.45" fill="#4ecff0" stroke="#4ecff0" stroke-width="8.72" stroke-linejoin="round"/><polygon points="-10.87,0 -5.57,-10.22 5.57,-10.22 10.87,0 5.57,10.22 -5.57,10.22" fill="#52cfe7" stroke="#52cfe7" stroke-width="8.53" stroke-linejoin="round"/><polygon points="-10.63,0 -5.44,-10 5.44,-10 10.63,0 5.44,10 -5.44,10" fill="#5ad0d8" stroke="#5ad0d8" stroke-width="8.34" stroke-linejoin="round"/><polygon points="-10.39,0 -5.32,-9.77 5.32,-9.77 10.39,0 5.32,9.77 -5.32,9.77" fill="#62d1c8" stroke="#62d1c8" stroke-width="8.15" stroke-linejoin="round"/><polygon points="-10.15,0 -5.2,-9.54 5.2,-9.54 10.15,0 5.2,9.54 -5.2,9.54" fill="#6cd1aa" stroke="#6cd1aa" stroke-width="7.96" stroke-linejoin="round"/><polygon points="-9.77,0 -5,-9.19 5,-9.19 9.77,0 5,9.19 -5,9.19" fill="#79d280" stroke="#79d280" stroke-width="7.67" stroke-linejoin="round"/><polygon points="-9.39,0 -4.81,-8.83 4.81,-8.83 9.39,0 4.81,8.83 -4.81,8.83" fill="#7dd06c" stroke="#7dd06c" stroke-width="7.37" stroke-linejoin="round"/><polygon points="-9.02,0 -4.62,-8.47 4.62,-8.47 9.02,0 4.62,8.47 -4.62,8.47" fill="#7ed066" stroke="#7ed066" stroke-width="7.07" stroke-linejoin="round"/><polygon points="-8.64,0 -4.42,-8.12 4.42,-8.12 8.64,0 4.42,8.12 -4.42,8.12" fill="#7ed066" stroke="#7ed066" stroke-width="6.78" stroke-linejoin="round"/><polygon points="-8.26,0 -4.23,-7.76 4.23,-7.76 8.26,0 4.23,7.76 -4.23,7.76" fill="#7bd179" stroke="#7bd179" stroke-width="6.48" stroke-linejoin="round"/><polygon points="-7.88,0 -4.03,-7.41 4.03,-7.41 7.88,0 4.03,7.41 -4.03,7.41" fill="#75d29d" stroke="#75d29d" stroke-width="6.18" stroke-linejoin="round"/><polygon points="-7.5,0 -3.84,-7.05 3.84,-7.05 7.5,0 3.84,7.05 -3.84,7.05" fill="#70d2aa" stroke="#70d2aa" stroke-width="5.89" stroke-linejoin="round"/><polygon points="-7.12,0 -3.65,-6.7 3.65,-6.7 7.12,0 3.65,6.7 -3.65,6.7" fill="#6cd2b2" stroke="#6cd2b2" stroke-width="5.59" stroke-linejoin="round"/><polygon points="-6.74,0 -3.45,-6.34 3.45,-6.34 6.74,0 3.45,6.34 -3.45,6.34" fill="#71d2a1" stroke="#71d2a1" stroke-width="5.29" stroke-linejoin="round"/><polygon points="-6.37,0 -3.26,-5.98 3.26,-5.98 6.37,0 3.26,5.98 -3.26,5.98" fill="#78d289" stroke="#78d289" stroke-width="4.99" stroke-linejoin="round"/><circle r="8.6" fill="url(#hexC)"/></g>
<g transform="translate(32.6,322.9)"><polygon points="-13.29,0 -6.8,-12.49 6.8,-12.49 13.29,0 6.8,12.49 -6.8,12.49" fill="#2857b0" stroke="#2857b0" stroke-width="9.2" stroke-linejoin="round"/><polygon points="-12.94,0 -6.62,-12.16 6.62,-12.16 12.94,0 6.62,12.16 -6.62,12.16" fill="#2d68b9" stroke="#2d68b9" stroke-width="9.2" stroke-linejoin="round"/><polygon points="-12.59,0 -6.45,-11.83 6.45,-11.83 12.59,0 6.45,11.83 -6.45,11.83" fill="#3684c8" stroke="#3684c8" stroke-width="9.2" stroke-linejoin="round"/><polygon points="-12.24,0 -6.27,-11.5 6.27,-11.5 12.24,0 6.27,11.5 -6.27,11.5" fill="#40a3d8" stroke="#40a3d8" stroke-width="9.2" stroke-linejoin="round"/><polygon points="-11.89,0 -6.09,-11.17 6.09,-11.17 11.89,0 6.09,11.17 -6.09,11.17" fill="#47b8e3" stroke="#47b8e3" stroke-width="9.2" stroke-linejoin="round"/><polygon points="-11.6,0 -5.94,-10.9 5.94,-10.9 11.6,0 5.94,10.9 -5.94,10.9" fill="#4dccee" stroke="#4dccee" stroke-width="9.1" stroke-linejoin="round"/><polygon points="-11.36,0 -5.81,-10.67 5.81,-10.67 11.36,0 5.81,10.67 -5.81,10.67" fill="#4ecff0" stroke="#4ecff0" stroke-width="8.91" stroke-linejoin="round"/><polygon points="-11.11,0 -5.69,-10.45 5.69,-10.45 11.11,0 5.69,10.45 -5.69,10.45" fill="#4ecff0" stroke="#4ecff0" stroke-width="8.72" stroke-linejoin="round"/><polygon points="-10.87,0 -5.57,-10.22 5.57,-10.22 10.87,0 5.57,10.22 -5.57,10.22" fill="#52cfe7" stroke="#52cfe7" stroke-width="8.53" stroke-linejoin="round"/><polygon points="-10.63,0 -5.44,-10 5.44,-10 10.63,0 5.44,10 -5.44,10" fill="#5ad0d8" stroke="#5ad0d8" stroke-width="8.34" stroke-linejoin="round"/><polygon points="-10.39,0 -5.32,-9.77 5.32,-9.77 10.39,0 5.32,9.77 -5.32,9.77" fill="#62d1c8" stroke="#62d1c8" stroke-width="8.15" stroke-linejoin="round"/><polygon points="-10.15,0 -5.2,-9.54 5.2,-9.54 10.15,0 5.2,9.54 -5.2,9.54" fill="#6cd1aa" stroke="#6cd1aa" stroke-width="7.96" stroke-linejoin="round"/><polygon points="-9.77,0 -5,-9.19 5,-9.19 9.77,0 5,9.19 -5,9.19" fill="#79d280" stroke="#79d280" stroke-width="7.67" stroke-linejoin="round"/><polygon points="-9.39,0 -4.81,-8.83 4.81,-8.83 9.39,0 4.81,8.83 -4.81,8.83" fill="#7dd06c" stroke="#7dd06c" stroke-width="7.37" stroke-linejoin="round"/><polygon points="-9.02,0 -4.62,-8.47 4.62,-8.47 9.02,0 4.62,8.47 -4.62,8.47" fill="#7ed066" stroke="#7ed066" stroke-width="7.07" stroke-linejoin="round"/><polygon points="-8.64,0 -4.42,-8.12 4.42,-8.12 8.64,0 4.42,8.12 -4.42,8.12" fill="#7ed066" stroke="#7ed066" stroke-width="6.78" stroke-linejoin="round"/><polygon points="-8.26,0 -4.23,-7.76 4.23,-7.76 8.26,0 4.23,7.76 -4.23,7.76" fill="#7bd179" stroke="#7bd179" stroke-width="6.48" stroke-linejoin="round"/><polygon points="-7.88,0 -4.03,-7.41 4.03,-7.41 7.88,0 4.03,7.41 -4.03,7.41" fill="#75d29d" stroke="#75d29d" stroke-width="6.18" stroke-linejoin="round"/><polygon points="-7.5,0 -3.84,-7.05 3.84,-7.05 7.5,0 3.84,7.05 -3.84,7.05" fill="#70d2aa" stroke="#70d2aa" stroke-width="5.89" stroke-linejoin="round"/><polygon points="-7.12,0 -3.65,-6.7 3.65,-6.7 7.12,0 3.65,6.7 -3.65,6.7" fill="#6cd2b2" stroke="#6cd2b2" stroke-width="5.59" stroke-linejoin="round"/><polygon points="-6.74,0 -3.45,-6.34 3.45,-6.34 6.74,0 3.45,6.34 -3.45,6.34" fill="#71d2a1" stroke="#71d2a1" stroke-width="5.29" stroke-linejoin="round"/><polygon points="-6.37,0 -3.26,-5.98 3.26,-5.98 6.37,0 3.26,5.98 -3.26,5.98" fill="#78d289" stroke="#78d289" stroke-width="4.99" stroke-linejoin="round"/><circle r="8.6" fill="url(#hexC)"/></g>
<g transform="translate(71.8,322.9)"><polygon points="-13.29,0 -6.8,-12.49 6.8,-12.49 13.29,0 6.8,12.49 -6.8,12.49" fill="#2857b0" stroke="#2857b0" stroke-width="9.2" stroke-linejoin="round"/><polygon points="-12.94,0 -6.62,-12.16 6.62,-12.16 12.94,0 6.62,12.16 -6.62,12.16" fill="#2d68b9" stroke="#2d68b9" stroke-width="9.2" stroke-linejoin="round"/><polygon points="-12.59,0 -6.45,-11.83 6.45,-11.83 12.59,0 6.45,11.83 -6.45,11.83" fill="#3684c8" stroke="#3684c8" stroke-width="9.2" stroke-linejoin="round"/><polygon points="-12.24,0 -6.27,-11.5 6.27,-11.5 12.24,0 6.27,11.5 -6.27,11.5" fill="#40a3d8" stroke="#40a3d8" stroke-width="9.2" stroke-linejoin="round"/><polygon points="-11.89,0 -6.09,-11.17 6.09,-11.17 11.89,0 6.09,11.17 -6.09,11.17" fill="#47b8e3" stroke="#47b8e3" stroke-width="9.2" stroke-linejoin="round"/><polygon points="-11.6,0 -5.94,-10.9 5.94,-10.9 11.6,0 5.94,10.9 -5.94,10.9" fill="#4dccee" stroke="#4dccee" stroke-width="9.1" stroke-linejoin="round"/><polygon points="-11.36,0 -5.81,-10.67 5.81,-10.67 11.36,0 5.81,10.67 -5.81,10.67" fill="#4ecff0" stroke="#4ecff0" stroke-width="8.91" stroke-linejoin="round"/><polygon points="-11.11,0 -5.69,-10.45 5.69,-10.45 11.11,0 5.69,10.45 -5.69,10.45" fill="#4ecff0" stroke="#4ecff0" stroke-width="8.72" stroke-linejoin="round"/><polygon points="-10.87,0 -5.57,-10.22 5.57,-10.22 10.87,0 5.57,10.22 -5.57,10.22" fill="#52cfe7" stroke="#52cfe7" stroke-width="8.53" stroke-linejoin="round"/><polygon points="-10.63,0 -5.44,-10 5.44,-10 10.63,0 5.44,10 -5.44,10" fill="#5ad0d8" stroke="#5ad0d8" stroke-width="8.34" stroke-linejoin="round"/><polygon points="-10.39,0 -5.32,-9.77 5.32,-9.77 10.39,0 5.32,9.77 -5.32,9.77" fill="#62d1c8" stroke="#62d1c8" stroke-width="8.15" stroke-linejoin="round"/><polygon points="-10.15,0 -5.2,-9.54 5.2,-9.54 10.15,0 5.2,9.54 -5.2,9.54" fill="#6cd1aa" stroke="#6cd1aa" stroke-width="7.96" stroke-linejoin="round"/><polygon points="-9.77,0 -5,-9.19 5,-9.19 9.77,0 5,9.19 -5,9.19" fill="#79d280" stroke="#79d280" stroke-width="7.67" stroke-linejoin="round"/><polygon points="-9.39,0 -4.81,-8.83 4.81,-8.83 9.39,0 4.81,8.83 -4.81,8.83" fill="#7dd06c" stroke="#7dd06c" stroke-width="7.37" stroke-linejoin="round"/><polygon points="-9.02,0 -4.62,-8.47 4.62,-8.47 9.02,0 4.62,8.47 -4.62,8.47" fill="#7ed066" stroke="#7ed066" stroke-width="7.07" stroke-linejoin="round"/><polygon points="-8.64,0 -4.42,-8.12 4.42,-8.12 8.64,0 4.42,8.12 -4.42,8.12" fill="#7ed066" stroke="#7ed066" stroke-width="6.78" stroke-linejoin="round"/><polygon points="-8.26,0 -4.23,-7.76 4.23,-7.76 8.26,0 4.23,7.76 -4.23,7.76" fill="#7bd179" stroke="#7bd179" stroke-width="6.48" stroke-linejoin="round"/><polygon points="-7.88,0 -4.03,-7.41 4.03,-7.41 7.88,0 4.03,7.41 -4.03,7.41" fill="#75d29d" stroke="#75d29d" stroke-width="6.18" stroke-linejoin="round"/><polygon points="-7.5,0 -3.84,-7.05 3.84,-7.05 7.5,0 3.84,7.05 -3.84,7.05" fill="#70d2aa" stroke="#70d2aa" stroke-width="5.89" stroke-linejoin="round"/><polygon points="-7.12,0 -3.65,-6.7 3.65,-6.7 7.12,0 3.65,6.7 -3.65,6.7" fill="#6cd2b2" stroke="#6cd2b2" stroke-width="5.59" stroke-linejoin="round"/><polygon points="-6.74,0 -3.45,-6.34 3.45,-6.34 6.74,0 3.45,6.34 -3.45,6.34" fill="#71d2a1" stroke="#71d2a1" stroke-width="5.29" stroke-linejoin="round"/><polygon points="-6.37,0 -3.26,-5.98 3.26,-5.98 6.37,0 3.26,5.98 -3.26,5.98" fill="#78d289" stroke="#78d289" stroke-width="4.99" stroke-linejoin="round"/><circle r="8.6" fill="url(#hexC)"/></g>
<g transform="translate(110.9,322.9)"><polygon points="-13.29,0 -6.8,-12.49 6.8,-12.49 13.29,0 6.8,12.49 -6.8,12.49" fill="#2857b0" stroke="#2857b0" stroke-width="9.2" stroke-linejoin="round"/><polygon points="-12.94,0 -6.62,-12.16 6.62,-12.16 12.94,0 6.62,12.16 -6.62,12.16" fill="#2d68b9" stroke="#2d68b9" stroke-width="9.2" stroke-linejoin="round"/><polygon points="-12.59,0 -6.45,-11.83 6.45,-11.83 12.59,0 6.45,11.83 -6.45,11.83" fill="#3684c8" stroke="#3684c8" stroke-width="9.2" stroke-linejoin="round"/><polygon points="-12.24,0 -6.27,-11.5 6.27,-11.5 12.24,0 6.27,11.5 -6.27,11.5" fill="#40a3d8" stroke="#40a3d8" stroke-width="9.2" stroke-linejoin="round"/><polygon points="-11.89,0 -6.09,-11.17 6.09,-11.17 11.89,0 6.09,11.17 -6.09,11.17" fill="#47b8e3" stroke="#47b8e3" stroke-width="9.2" stroke-linejoin="round"/><polygon points="-11.6,0 -5.94,-10.9 5.94,-10.9 11.6,0 5.94,10.9 -5.94,10.9" fill="#4dccee" stroke="#4dccee" stroke-width="9.1" stroke-linejoin="round"/><polygon points="-11.36,0 -5.81,-10.67 5.81,-10.67 11.36,0 5.81,10.67 -5.81,10.67" fill="#4ecff0" stroke="#4ecff0" stroke-width="8.91" stroke-linejoin="round"/><polygon points="-11.11,0 -5.69,-10.45 5.69,-10.45 11.11,0 5.69,10.45 -5.69,10.45" fill="#4ecff0" stroke="#4ecff0" stroke-width="8.72" stroke-linejoin="round"/><polygon points="-10.87,0 -5.57,-10.22 5.57,-10.22 10.87,0 5.57,10.22 -5.57,10.22" fill="#52cfe7" stroke="#52cfe7" stroke-width="8.53" stroke-linejoin="round"/><polygon points="-10.63,0 -5.44,-10 5.44,-10 10.63,0 5.44,10 -5.44,10" fill="#5ad0d8" stroke="#5ad0d8" stroke-width="8.34" stroke-linejoin="round"/><polygon points="-10.39,0 -5.32,-9.77 5.32,-9.77 10.39,0 5.32,9.77 -5.32,9.77" fill="#62d1c8" stroke="#62d1c8" stroke-width="8.15" stroke-linejoin="round"/><polygon points="-10.15,0 -5.2,-9.54 5.2,-9.54 10.15,0 5.2,9.54 -5.2,9.54" fill="#6cd1aa" stroke="#6cd1aa" stroke-width="7.96" stroke-linejoin="round"/><polygon points="-9.77,0 -5,-9.19 5,-9.19 9.77,0 5,9.19 -5,9.19" fill="#79d280" stroke="#79d280" stroke-width="7.67" stroke-linejoin="round"/><polygon points="-9.39,0 -4.81,-8.83 4.81,-8.83 9.39,0 4.81,8.83 -4.81,8.83" fill="#7dd06c" stroke="#7dd06c" stroke-width="7.37" stroke-linejoin="round"/><polygon points="-9.02,0 -4.62,-8.47 4.62,-8.47 9.02,0 4.62,8.47 -4.62,8.47" fill="#7ed066" stroke="#7ed066" stroke-width="7.07" stroke-linejoin="round"/><polygon points="-8.64,0 -4.42,-8.12 4.42,-8.12 8.64,0 4.42,8.12 -4.42,8.12" fill="#7ed066" stroke="#7ed066" stroke-width="6.78" stroke-linejoin="round"/><polygon points="-8.26,0 -4.23,-7.76 4.23,-7.76 8.26,0 4.23,7.76 -4.23,7.76" fill="#7bd179" stroke="#7bd179" stroke-width="6.48" stroke-linejoin="round"/><polygon points="-7.88,0 -4.03,-7.41 4.03,-7.41 7.88,0 4.03,7.41 -4.03,7.41" fill="#75d29d" stroke="#75d29d" stroke-width="6.18" stroke-linejoin="round"/><polygon points="-7.5,0 -3.84,-7.05 3.84,-7.05 7.5,0 3.84,7.05 -3.84,7.05" fill="#70d2aa" stroke="#70d2aa" stroke-width="5.89" stroke-linejoin="round"/><polygon points="-7.12,0 -3.65,-6.7 3.65,-6.7 7.12,0 3.65,6.7 -3.65,6.7" fill="#6cd2b2" stroke="#6cd2b2" stroke-width="5.59" stroke-linejoin="round"/><polygon points="-6.74,0 -3.45,-6.34 3.45,-6.34 6.74,0 3.45,6.34 -3.45,6.34" fill="#71d2a1" stroke="#71d2a1" stroke-width="5.29" stroke-linejoin="round"/><polygon points="-6.37,0 -3.26,-5.98 3.26,-5.98 6.37,0 3.26,5.98 -3.26,5.98" fill="#78d289" stroke="#78d289" stroke-width="4.99" stroke-linejoin="round"/><circle r="8.6" fill="url(#hexC)"/></g>
</g>
<g clip-path="url(#cpb1C)" >
<rect x="113" y="187" width="80" height="137" fill="#2349a8"/>
<circle cx="113" cy="290.6" r="16.2" fill="url(#blobG)" />
<circle cx="168.7" cy="290.6" r="16.4" fill="url(#blobG)" />
<circle cx="129.6" cy="316.8" r="16.4" fill="url(#blobG)" />
<circle cx="188.4" cy="316.8" r="16.2" fill="url(#blobG)" />
<circle cx="112.3" cy="310.8" r="6.4" fill="url(#eBl)" />
<circle cx="129.6" cy="295.6" r="8.6" fill="url(#eB)" />
<circle cx="149.3" cy="303.1" r="8.6" fill="url(#eB)" />
<circle cx="168.7" cy="310" r="8.6" fill="url(#eB)" />
<circle cx="188.4" cy="295.6" r="8.6" fill="url(#eB)" />
</g>
<g clip-path="url(#cpc1T)" >
<rect x="32" y="359" width="78" height="135" fill="#60bb40"/>
<circle cx="71.2" cy="361.5" r="14.5" fill="url(#eY)" />
<circle cx="51" cy="391.5" r="15" fill="url(#eY)" />
<circle cx="92.6" cy="391.5" r="15" fill="url(#eY)" />
<circle cx="32.5" cy="424.4" r="13" fill="url(#eY)" />
<circle cx="109.6" cy="424.4" r="13" fill="url(#eY)" />
<circle cx="51" cy="458.6" r="15" fill="url(#eY)" />
<circle cx="92.6" cy="458.6" r="15" fill="url(#eY)" />
<circle cx="71.2" cy="491.3" r="14.5" fill="url(#eY)" />
<path d="M67,378 L77,378 L72,386.2 Z" fill="#5fcfc8" stroke="#5fcfc8" stroke-width="3" stroke-linejoin="round" opacity="0.7" filter="url(#b15)"/>
<g filter="url(#b2)" fill="#4ecff0" stroke="#4ecff0" stroke-linejoin="round">
<path d="M72,409.5 C78,409.5 87,425 87,434.5 C87,440.5 80,441.5 72,441.5 C64,441.5 57,440.5 57,434.5 C57,425 66,409.5 72,409.5 Z" stroke-width="14.5"/>
<path d="M72,464 L78.8,476.2 L65.2,476.2 Z" stroke-width="12"/>
<path d="M28,392.5 L40.5,403.8 L28,412.5 Z" stroke-width="9.5"/>
<path d="M114,394 L104,403.8 L114,411 Z" stroke-width="8.5"/>
<circle cx="32" cy="359" r="21.5" fill="#4ecff0" stroke="none"/>
<circle cx="110" cy="359" r="19.5" fill="#4ecff0" stroke="none"/>
<circle cx="32" cy="494" r="20.5" fill="#4ecff0" stroke="none"/>
<circle cx="110" cy="494" r="18.5" fill="#4ecff0" stroke="none"/>
<circle cx="31.5" cy="446.5" r="3.6" fill="#4ecff0" stroke="none" opacity="0.8"/>
<circle cx="110.5" cy="446.5" r="3.6" fill="#4ecff0" stroke="none" opacity="0.8"/>
</g>
<g filter="url(#b15)" fill="#2349a8" stroke="#2349a8" stroke-linejoin="round">
<path d="M72,409.5 C78,409.5 87,425 87,434.5 C87,440.5 80,441.5 72,441.5 C64,441.5 57,440.5 57,434.5 C57,425 66,409.5 72,409.5 Z" stroke-width="5.5"/>
<path d="M72,464 L78.8,476.2 L65.2,476.2 Z" stroke-width="4.5"/>
<path d="M28,392.5 L40.5,403.8 L28,412.5 Z" stroke-width="3"/>
<path d="M114,394 L104,403.8 L114,411 Z" stroke-width="2.5"/>
<circle cx="32" cy="359" r="15.5" fill="#2349a8" stroke="none"/>
<circle cx="110" cy="359" r="13.5" fill="#2349a8" stroke="none"/>
<circle cx="32" cy="494" r="14.5" fill="#2349a8" stroke="none"/>
<circle cx="110" cy="494" r="12.5" fill="#2349a8" stroke="none"/>
</g>
</g>
<g clip-path="url(#cpc1C)" >
<rect x="113" y="359" width="80" height="135" fill="#60bb40"/>
<g filter="url(#b15)">
<rect x="110" y="427.2" width="86" height="44.6" fill="#5ccfd8"/>
<ellipse cx="145.8" cy="450" rx="10.8" ry="14.6" fill="#62ccb0" />
<ellipse cx="145.8" cy="450" rx="9.2" ry="13" fill="#60bb40" />
<ellipse cx="185.9" cy="450" rx="10.8" ry="14.6" fill="#62ccb0" />
<ellipse cx="185.9" cy="450" rx="9.2" ry="13" fill="#60bb40" />
</g>
<ellipse cx="145.8" cy="450" rx="5.5" ry="6.5" fill="url(#eYs)" />
<ellipse cx="185.9" cy="450" rx="5.5" ry="6.5" fill="url(#eYs)" />
<g filter="url(#b07)">
<path d="M110,356 L110,409.93 L110.8,408.63 L111.6,407.16 L112.4,405.58 L113.2,403.92 L114,402.22 L114.8,400.52 L115.6,398.85 L116.4,397.26 L117.2,395.76 L118,394.39 L118.8,393.17 L119.6,392.12 L120.4,391.24 L121.2,390.53 L122,390 L122.8,389.62 L123.6,389.38 L124.4,389.25 L125.2,389.2 L126,389.2 L126.8,389.22 L127.6,389.3 L128.4,389.48 L129.2,389.79 L130,390.24 L130.8,390.86 L131.6,391.66 L132.4,392.62 L133.2,393.76 L134,395.06 L134.8,396.49 L135.6,398.04 L136.4,399.68 L137.2,401.37 L138,403.08 L138.8,404.76 L139.6,406.39 L140.4,407.91 L141.2,409.3 L142,410.52 L142.8,411.54 L143.6,412.33 L144.4,412.87 L145.2,413.16 L146,413.17 L146.8,412.92 L147.6,412.41 L148.4,411.65 L149.2,410.66 L150,409.46 L150.8,408.09 L151.6,406.58 L152.4,404.97 L153.2,403.29 L154,401.58 L154.8,399.89 L155.6,398.24 L156.4,396.68 L157.2,395.23 L158,393.92 L158.8,392.76 L159.6,391.77 L160.4,390.95 L161.2,390.31 L162,389.84 L162.8,389.51 L163.6,389.32 L164.4,389.23 L165.2,389.2 L166,389.2 L166.8,389.24 L167.6,389.36 L168.4,389.58 L169.2,389.94 L170,390.46 L170.8,391.14 L171.6,392 L172.4,393.03 L173.2,394.23 L174,395.58 L174.8,397.06 L175.6,398.65 L176.4,400.31 L177.2,402.01 L178,403.71 L178.8,405.38 L179.6,406.97 L180.4,408.45 L181.2,409.78 L182,410.93 L182.8,411.86 L183.6,412.56 L184.4,413.01 L185.2,413.2 L186,413.11 L186.8,412.76 L187.6,412.15 L188.4,411.3 L189.2,410.23 L190,408.97 L190.8,407.54 L191.6,405.99 L192.4,404.34 L193.2,402.65 L194,400.94 L194.8,399.26 L195.6,397.65 L196,356 Z" fill="#4ecff0" stroke="#4ecff0" stroke-width="5.4" stroke-linejoin="round"/>
<path d="M110,356 L110,409.93 L110.8,408.63 L111.6,407.16 L112.4,405.58 L113.2,403.92 L114,402.22 L114.8,400.52 L115.6,398.85 L116.4,397.26 L117.2,395.76 L118,394.39 L118.8,393.17 L119.6,392.12 L120.4,391.24 L121.2,390.53 L122,390 L122.8,389.62 L123.6,389.38 L124.4,389.25 L125.2,389.2 L126,389.2 L126.8,389.22 L127.6,389.3 L128.4,389.48 L129.2,389.79 L130,390.24 L130.8,390.86 L131.6,391.66 L132.4,392.62 L133.2,393.76 L134,395.06 L134.8,396.49 L135.6,398.04 L136.4,399.68 L137.2,401.37 L138,403.08 L138.8,404.76 L139.6,406.39 L140.4,407.91 L141.2,409.3 L142,410.52 L142.8,411.54 L143.6,412.33 L144.4,412.87 L145.2,413.16 L146,413.17 L146.8,412.92 L147.6,412.41 L148.4,411.65 L149.2,410.66 L150,409.46 L150.8,408.09 L151.6,406.58 L152.4,404.97 L153.2,403.29 L154,401.58 L154.8,399.89 L155.6,398.24 L156.4,396.68 L157.2,395.23 L158,393.92 L158.8,392.76 L159.6,391.77 L160.4,390.95 L161.2,390.31 L162,389.84 L162.8,389.51 L163.6,389.32 L164.4,389.23 L165.2,389.2 L166,389.2 L166.8,389.24 L167.6,389.36 L168.4,389.58 L169.2,389.94 L170,390.46 L170.8,391.14 L171.6,392 L172.4,393.03 L173.2,394.23 L174,395.58 L174.8,397.06 L175.6,398.65 L176.4,400.31 L177.2,402.01 L178,403.71 L178.8,405.38 L179.6,406.97 L180.4,408.45 L181.2,409.78 L182,410.93 L182.8,411.86 L183.6,412.56 L184.4,413.01 L185.2,413.2 L186,413.11 L186.8,412.76 L187.6,412.15 L188.4,411.3 L189.2,410.23 L190,408.97 L190.8,407.54 L191.6,405.99 L192.4,404.34 L193.2,402.65 L194,400.94 L194.8,399.26 L195.6,397.65 L196,356 Z" fill="#2349a8" stroke="#2349a8" stroke-width="0.2"/>
</g>
<g filter="url(#b07)">
<path d="M117.2,410.2 A8.6,13.6 0 0 1 134.4,410.2 Z" fill="#d9df42"/>
<path d="M118.2,409.6 A7.6,12 0 0 1 133.4,409.6 Z" fill="#f9d838"/>
<path d="M119.3,409 A6.5,10.2 0 0 1 132.3,409 Z" fill="#fbac2c"/>
<path d="M120.6,408.5 A5.2,8.3 0 0 1 131,408.5 Z" fill="#f88422"/>
<path d="M122.4,408 A3.4,5.6 0 0 1 129.2,408 Z" fill="#f66a20"/>
<rect x="117.05" y="489.8" width="17.5" height="7" rx="2.4" fill="#dfe040"/>
<rect x="119.3" y="491.6" width="13" height="6" rx="1.6" fill="#fbc030"/>
<rect x="121.3" y="492.8" width="9" height="5" rx="1.2" fill="#f98a24"/>
<path d="M156.8,410.2 A8.6,13.6 0 0 1 174,410.2 Z" fill="#d9df42"/>
<path d="M157.8,409.6 A7.6,12 0 0 1 173,409.6 Z" fill="#f9d838"/>
<path d="M158.9,409 A6.5,10.2 0 0 1 171.9,409 Z" fill="#fbac2c"/>
<path d="M160.2,408.5 A5.2,8.3 0 0 1 170.6,408.5 Z" fill="#f88422"/>
<path d="M162,408 A3.4,5.6 0 0 1 168.8,408 Z" fill="#f66a20"/>
<rect x="156.65" y="489.8" width="17.5" height="7" rx="2.4" fill="#dfe040"/>
<rect x="158.9" y="491.6" width="13" height="6" rx="1.6" fill="#fbc030"/>
<rect x="160.9" y="492.8" width="9" height="5" rx="1.2" fill="#f98a24"/>
</g>
<path d="M122.8,413.4 L128.8,413.4 C129.6,417 127.3,420.5 125.8,421.2 C124.3,420.5 122,417 122.8,413.4 Z" fill="#5cc8a0" stroke="#5cc8a0" stroke-width="6.2" stroke-linejoin="round" opacity="0.45"/>
<path d="M122.8,413.4 L128.8,413.4 C129.6,417 127.3,420.5 125.8,421.2 C124.3,420.5 122,417 122.8,413.4 Z" fill="#4ecff0" stroke="#4ecff0" stroke-width="4.8" stroke-linejoin="round" opacity="1"/>
<path d="M122.8,413.4 L128.8,413.4 C129.6,417 127.3,420.5 125.8,421.2 C124.3,420.5 122,417 122.8,413.4 Z" fill="#388ccc" stroke="#388ccc" stroke-width="3.4" stroke-linejoin="round" opacity="1"/>
<path d="M122.8,413.4 L128.8,413.4 C129.6,417 127.3,420.5 125.8,421.2 C124.3,420.5 122,417 122.8,413.4 Z" fill="#2349a8" stroke="#2349a8" stroke-width="2.4" stroke-linejoin="round" opacity="1"/>
<ellipse cx="125.8" cy="483.7" rx="6.3" ry="7" fill="url(#eSb)" />
<path d="M162.4,413.4 L168.4,413.4 C169.2,417 166.9,420.5 165.4,421.2 C163.9,420.5 161.6,417 162.4,413.4 Z" fill="#5cc8a0" stroke="#5cc8a0" stroke-width="6.2" stroke-linejoin="round" opacity="0.45"/>
<path d="M162.4,413.4 L168.4,413.4 C169.2,417 166.9,420.5 165.4,421.2 C163.9,420.5 161.6,417 162.4,413.4 Z" fill="#4ecff0" stroke="#4ecff0" stroke-width="4.8" stroke-linejoin="round" opacity="1"/>
<path d="M162.4,413.4 L168.4,413.4 C169.2,417 166.9,420.5 165.4,421.2 C163.9,420.5 161.6,417 162.4,413.4 Z" fill="#388ccc" stroke="#388ccc" stroke-width="3.4" stroke-linejoin="round" opacity="1"/>
<path d="M162.4,413.4 L168.4,413.4 C169.2,417 166.9,420.5 165.4,421.2 C163.9,420.5 161.6,417 162.4,413.4 Z" fill="#2349a8" stroke="#2349a8" stroke-width="2.4" stroke-linejoin="round" opacity="1"/>
<ellipse cx="165.4" cy="483.7" rx="6.3" ry="7" fill="url(#eSb)" />
<ellipse cx="145.8" cy="495.4" rx="7" ry="7.6" fill="url(#eSb)" />
<ellipse cx="185.9" cy="495.4" rx="7" ry="7.6" fill="url(#eSb)" />
<g fill="#58ccd0" opacity="0.45">
<circle cx="125.8" cy="438.5" r="12.3" fill="#58ccd0" />
<circle cx="125.8" cy="461.6" r="12.3" fill="#58ccd0" />
<rect x="117.5" y="438.5" width="16.6" height="23.1"/>
</g>
<g fill="#4ecff0" opacity="1">
<circle cx="125.8" cy="438.5" r="11.4" fill="#4ecff0" />
<circle cx="125.8" cy="461.6" r="11.4" fill="#4ecff0" />
<rect x="118.1" y="438.5" width="15.4" height="23.1"/>
</g>
<g fill="#388ccc" opacity="1">
<circle cx="125.8" cy="438.5" r="10.7" fill="#388ccc" />
<circle cx="125.8" cy="461.6" r="10.7" fill="#388ccc" />
<rect x="118.7" y="438.5" width="14.2" height="23.1"/>
</g>
<g fill="#2349a8" opacity="1">
<circle cx="125.8" cy="438.5" r="10.2" fill="#2349a8" />
<circle cx="125.8" cy="461.6" r="10.2" fill="#2349a8" />
<rect x="119.1" y="438.5" width="13.4" height="23.1"/>
</g>
<circle cx="125.8" cy="438.5" r="5.4" fill="url(#eCore)" />
<circle cx="125.8" cy="461.6" r="5.4" fill="url(#eCore)" />
<g fill="#58ccd0" opacity="0.45">
<circle cx="165.4" cy="438.5" r="12.3" fill="#58ccd0" />
<circle cx="165.4" cy="461.6" r="12.3" fill="#58ccd0" />
<rect x="157.1" y="438.5" width="16.6" height="23.1"/>
</g>
<g fill="#4ecff0" opacity="1">
<circle cx="165.4" cy="438.5" r="11.4" fill="#4ecff0" />
<circle cx="165.4" cy="461.6" r="11.4" fill="#4ecff0" />
<rect x="157.7" y="438.5" width="15.4" height="23.1"/>
</g>
<g fill="#388ccc" opacity="1">
<circle cx="165.4" cy="438.5" r="10.7" fill="#388ccc" />
<circle cx="165.4" cy="461.6" r="10.7" fill="#388ccc" />
<rect x="158.3" y="438.5" width="14.2" height="23.1"/>
</g>
<g fill="#2349a8" opacity="1">
<circle cx="165.4" cy="438.5" r="10.2" fill="#2349a8" />
<circle cx="165.4" cy="461.6" r="10.2" fill="#2349a8" />
<rect x="158.7" y="438.5" width="13.4" height="23.1"/>
</g>
<circle cx="165.4" cy="438.5" r="5.4" fill="url(#eCore)" />
<circle cx="165.4" cy="461.6" r="5.4" fill="url(#eCore)" />
</g>
<g clip-path="url(#cpd1T)" >
<rect x="32" y="527" width="78" height="137" fill="#2651b2"/>
<g filter="url(#b15)" fill="#52c8f0">
<circle cx="86.7" cy="555.4" r="12.4" fill="#52c8f0" />
<circle cx="70.9" cy="596" r="15.4" fill="#52c8f0" />
<circle cx="39" cy="624" r="13.8" fill="#52c8f0" />
<circle cx="62.7" cy="658" r="13.8" fill="#52c8f0" />
<circle cx="108.2" cy="587.5" r="12.6" fill="#52c8f0" />
<path d="M30,525 L77,525 L75,538 L68,556 L63,574 L57,589 L48,593 L38,592 L30,586 Z" fill="#52c8f0" />
<path d="M59,624 L70,611 L88,607 L102,607 L112,612 L112,640 L104,650 L90,652 L82,640 L62,636 Z" fill="#52c8f0" />
<path d="M97,525 L112,525 L112,539 L104,536 Z" fill="#52c8f0" opacity="0.75"/>
<path d="M84,652 L100,648 L112,655 L112,666 L86,666 Z" fill="#52c8f0" opacity="0.22"/>
<path d="M30,640 L36,650 L33,666 L30,666 Z" fill="#52c8f0" opacity="0.6"/>
</g>
<g filter="url(#b1)">
<path d="M31,559.5C31.73,557.79 35.53,555.13 36.5,553C37.47,550.87 37.3,544.91 38.3,543.5C39.3,542.09 42.2,542.57 44,542.4C45.8,542.23 50.57,541.25 51.8,542.2C53.03,543.15 52.51,547.93 53.2,549.5C53.89,551.07 55.61,552.92 57,554C58.39,555.08 63.4,556.47 63.6,557.6C63.8,558.73 59.51,561.11 58.5,562.5C57.49,563.89 56.47,566.27 56,568C55.53,569.73 55.8,573.63 55,575.5C54.2,577.37 51.27,580.47 50,582C48.73,583.53 46.83,586.2 45.5,587C44.17,587.8 40.53,588.93 40,588C39.47,587.07 41.03,582 41.5,580C41.97,578 43.43,574.8 43.5,573C43.57,571.2 43,567.46 42,566.5C41,565.54 37.47,565.89 36,565.8C34.53,565.71 31.67,566.64 31,565.8C30.33,564.96 30.27,561.21 31,559.5Z" fill="#62bb45" />
<path d="M89.2,611.8C90.65,610.71 96.76,610.24 98.2,610.8C99.64,611.36 99.29,614.57 100,616C100.71,617.43 102.1,620.06 103.5,621.5C104.9,622.94 109.57,625.53 110.5,626.8C111.43,628.07 111.23,629.64 110.5,631C109.77,632.36 106.27,635.4 105,637C103.73,638.6 102.07,641.67 101,643C99.93,644.33 98.13,646.53 97,647C95.87,647.47 93.43,647.3 92.5,646.5C91.57,645.7 90.81,642.53 90,641C89.19,639.47 87.87,636.07 86.4,635C84.93,633.93 81.05,633.35 79,633C76.95,632.65 73,632.72 71,632.4C69,632.08 65.17,631.39 64,630.6C62.83,629.81 61.76,626.71 62.2,626.5C62.64,626.29 65.73,628.53 67.3,629C68.87,629.47 72.31,629.92 74,630C75.69,630.08 78.53,630.13 80,629.6C81.47,629.07 84.03,627.41 85,626C85.97,624.59 86.74,620.89 87.3,619C87.86,617.11 87.75,612.89 89.2,611.8Z" fill="#62bb45" />
<circle cx="45.8" cy="558" r="3.4" fill="#5cc8e0" />
<ellipse cx="96.5" cy="628" rx="4.5" ry="6.5" fill="#8cc83c" opacity="0.55"/>
</g>
<g filter="url(#b1)" fill="#2349a8">
<circle cx="45.8" cy="532.7" r="7.8" fill="#2349a8" />
<circle cx="63.6" cy="546.2" r="8.8" fill="#2349a8" />
<circle cx="30.5" cy="549" r="6.4" fill="#2349a8" />
<circle cx="70.7" cy="596.5" r="7.2" fill="#2349a8" />
<circle cx="62.8" cy="657.7" r="5.2" fill="#2349a8" />
<circle cx="108.2" cy="590" r="5" fill="#2349a8" />
<circle cx="110.8" cy="639" r="5.4" fill="#2349a8" />
<circle cx="86.7" cy="555.4" r="2.6" fill="#2f74cc" />
<circle cx="39" cy="624" r="3.2" fill="#2f74cc" />
</g>
<circle cx="66.8" cy="569.9" r="11.4" fill="url(#eD)" />
<circle cx="31.2" cy="574.8" r="11.8" fill="url(#eD)" />
<circle cx="75.7" cy="619" r="12" fill="url(#eD)" />
<circle cx="109.6" cy="614.5" r="10.4" fill="url(#eD)" />
<circle cx="81.7" cy="532.5" r="11.6" fill="url(#eDy)" />
<circle cx="34.2" cy="600.8" r="11.8" fill="url(#eDy)" />
<circle cx="79.4" cy="643.4" r="11.6" fill="url(#eDg)" />
</g>
<g clip-path="url(#cpd1C)" >
<rect x="113" y="527" width="80" height="136" fill="#2349a8"/>
<g filter="url(#b2)">
<path d="M110,603 L121,607 L128,592 L133,585.5 L143,584.5 L147,600 L154,602 L158,590 L165,583 L175,580.5 L186,584 L196,594 L196,668 L110,668 Z" fill="#48b8ea" />
</g>
<g filter="url(#b15)">
<circle cx="172.5" cy="593.54" r="13.19" fill="#52c8f0" />
<circle cx="130.33" cy="650.96" r="12.64" fill="#52c8f0" />
<circle cx="180.05" cy="646.15" r="12.36" fill="#52c8f0" />
<circle cx="137.47" cy="610.03" r="11.68" fill="#52c8f0" />
<circle cx="149.84" cy="620.33" r="10.99" fill="#52c8f0" />
<circle cx="118.24" cy="616.21" r="6.87" fill="#52c8f0" />
<circle cx="155.33" cy="634.07" r="8.24" fill="#52c8f0" />
<circle cx="186.92" cy="613.46" r="6.87" fill="#52c8f0" />
<circle cx="136.5" cy="588.5" r="8.6" fill="#52c8f0" />
<ellipse cx="191.5" cy="603" rx="4.5" ry="11" fill="#2f62c0" opacity="0.75"/>
<path d="M110,660 L124,661 L126,668 L110,668 Z" fill="#2349a8" />
<path d="M168,661 L196,658 L196,668 L168,668 Z" fill="#2349a8" />
<circle cx="184.5" cy="628.6" r="3.8" fill="#2c62c0" />
<circle cx="147.5" cy="626" r="3" fill="#3f9fe0" opacity="0.5"/>
</g>
<g filter="url(#b1)">
<path d="M130.6,589.42C131.04,588.38 132.44,587.47 133.35,587.09C134.27,586.7 136.23,586.36 137.47,586.54C138.72,586.72 141.85,587.53 142.69,588.46C143.53,589.4 143.57,592.23 143.79,593.54C144.01,594.86 143.72,597.2 144.34,598.35C144.96,599.51 147.07,601.39 148.46,602.2C149.85,603 154.01,603.66 154.78,604.4C155.55,605.13 154.98,607.14 154.23,607.69C153.48,608.24 150.65,608.74 149.15,608.52C147.65,608.3 144.34,606.81 142.97,606.04C141.59,605.27 139.95,603.33 138.85,602.75C137.75,602.16 135.7,601.94 134.73,601.65C133.75,601.36 132.19,601.45 131.57,600.55C130.94,599.65 130.18,596.4 130.05,594.92C129.93,593.43 130.16,590.47 130.6,589.42Z" fill="#62bb45" />
<circle cx="136.79" cy="594.23" r="3" fill="#8cc83c" opacity="0.7"/>
<path d="M150.93,639.29C151.66,638.56 154.81,640.1 156.02,640.93C157.22,641.77 161.24,645.18 161.24,646.43C161.24,647.68 157.19,650.65 156.02,651.65C154.85,652.64 151.93,655.47 151.21,654.95C150.49,654.42 149.87,648.94 149.84,647.12C149.8,645.29 150.21,640.01 150.93,639.29Z" fill="#62bb45" />
<ellipse cx="179.37" cy="619.64" rx="6.5" ry="2.6" fill="#62bb45" opacity="0.75" transform="rotate(-40 179.37 619.64)"/>
<ellipse cx="115.49" cy="629.95" rx="3.5" ry="3.5" fill="#62bb45" opacity="0.45"/>
<circle cx="149.84" cy="594.23" r="7.83" fill="#2349a8" />
<circle cx="172.5" cy="593.54" r="6.87" fill="#2349a8" />
<circle cx="137.47" cy="610.03" r="7.83" fill="#2349a8" />
<circle cx="130.33" cy="650.96" r="6.04" fill="#2349a8" />
<circle cx="180.05" cy="646.15" r="6.04" fill="#2349a8" />
<circle cx="161.92" cy="657.69" r="8.52" fill="#2349a8" />
<circle cx="112.47" cy="651.92" r="4.4" fill="#2349a8" />
</g>
<circle cx="120.3" cy="597.94" r="9.89" fill="url(#eD)" />
<circle cx="168.38" cy="613.46" r="10.71" fill="url(#eD)" />
<circle cx="133.63" cy="629.67" r="10.71" fill="url(#eD)" />
<circle cx="164.67" cy="633.38" r="10.16" fill="url(#eDg)" />
</g>
<text x="45.2" y="14.6" font-size="12.1" text-anchor="start" font-weight="normal" fill="#231f20" >Top-down</text>
<text x="113.2" y="14.6" font-size="12.1" text-anchor="start" font-weight="normal" fill="#231f20" >Cross-sectional</text>
<rect x="198.3" y="33.2" width="5.2" height="108.6" fill="url(#cbar)"/>
<rect x="202.3" y="54.52" width="1.4" height="0.8" fill="#3a3a3a" opacity="0.8"/>
<rect x="202.3" y="65.38" width="1.4" height="0.8" fill="#3a3a3a" opacity="0.8"/>
<rect x="202.3" y="87.1" width="1.4" height="0.8" fill="#3a3a3a" opacity="0.8"/>
<rect x="202.3" y="97.96" width="1.4" height="0.8" fill="#3a3a3a" opacity="0.8"/>
<rect x="202.3" y="119.68" width="1.4" height="0.8" fill="#3a3a3a" opacity="0.8"/>
<rect x="202.3" y="130.54" width="1.4" height="0.8" fill="#3a3a3a" opacity="0.8"/>
<text x="199.8" y="29.7" font-size="12.3" text-anchor="middle" font-weight="normal" fill="#231f20" >1</text>
<text x="200.3" y="155.3" font-size="12.3" text-anchor="middle" font-weight="normal" fill="#231f20" >0</text>
<rect x="198.3" y="203" width="5.2" height="108" fill="url(#cbar)"/>
<rect x="202.3" y="224.2" width="1.4" height="0.8" fill="#3a3a3a" opacity="0.8"/>
<rect x="202.3" y="235" width="1.4" height="0.8" fill="#3a3a3a" opacity="0.8"/>
<rect x="202.3" y="256.6" width="1.4" height="0.8" fill="#3a3a3a" opacity="0.8"/>
<rect x="202.3" y="267.4" width="1.4" height="0.8" fill="#3a3a3a" opacity="0.8"/>
<rect x="202.3" y="289" width="1.4" height="0.8" fill="#3a3a3a" opacity="0.8"/>
<rect x="202.3" y="299.8" width="1.4" height="0.8" fill="#3a3a3a" opacity="0.8"/>
<text x="199.8" y="199.3" font-size="12.3" text-anchor="middle" font-weight="normal" fill="#231f20" >1</text>
<text x="200.3" y="324.5" font-size="12.3" text-anchor="middle" font-weight="normal" fill="#231f20" >0</text>
<rect x="198.3" y="371.2" width="5.2" height="108.6" fill="url(#cbar)"/>
<rect x="202.3" y="392.52" width="1.4" height="0.8" fill="#3a3a3a" opacity="0.8"/>
<rect x="202.3" y="403.38" width="1.4" height="0.8" fill="#3a3a3a" opacity="0.8"/>
<rect x="202.3" y="425.1" width="1.4" height="0.8" fill="#3a3a3a" opacity="0.8"/>
<rect x="202.3" y="435.96" width="1.4" height="0.8" fill="#3a3a3a" opacity="0.8"/>
<rect x="202.3" y="457.68" width="1.4" height="0.8" fill="#3a3a3a" opacity="0.8"/>
<rect x="202.3" y="468.54" width="1.4" height="0.8" fill="#3a3a3a" opacity="0.8"/>
<text x="199.8" y="367.5" font-size="12.3" text-anchor="middle" font-weight="normal" fill="#231f20" >1</text>
<text x="200.3" y="493.5" font-size="12.3" text-anchor="middle" font-weight="normal" fill="#231f20" >0</text>
<rect x="198.3" y="542.5" width="5.2" height="107.8" fill="url(#cbar)"/>
<rect x="202.3" y="563.66" width="1.4" height="0.8" fill="#3a3a3a" opacity="0.8"/>
<rect x="202.3" y="574.44" width="1.4" height="0.8" fill="#3a3a3a" opacity="0.8"/>
<rect x="202.3" y="596" width="1.4" height="0.8" fill="#3a3a3a" opacity="0.8"/>
<rect x="202.3" y="606.78" width="1.4" height="0.8" fill="#3a3a3a" opacity="0.8"/>
<rect x="202.3" y="628.34" width="1.4" height="0.8" fill="#3a3a3a" opacity="0.8"/>
<rect x="202.3" y="639.12" width="1.4" height="0.8" fill="#3a3a3a" opacity="0.8"/>
<text x="199.8" y="538.8" font-size="12.3" text-anchor="middle" font-weight="normal" fill="#231f20" >1</text>
<text x="200.3" y="664" font-size="12.3" text-anchor="middle" font-weight="normal" fill="#231f20" >0</text>
<text x="8.4" y="18" font-size="16.2" font-weight="bold" fill="#111">a<tspan font-size="10.8" dx="0.9" dy="3.8">1</tspan></text>
<text x="8.9" y="189.8" font-size="16.2" font-weight="bold" fill="#111">b<tspan font-size="10.8" dx="0.9" dy="3.8">1</tspan></text>
<text x="9" y="360" font-size="16.2" font-weight="bold" fill="#111">c<tspan font-size="10.8" dx="0.9" dy="3.8">1</tspan></text>
<text x="9" y="532" font-size="16.2" font-weight="bold" fill="#111">d<tspan font-size="10.8" dx="0.9" dy="3.8">1</tspan></text>
<text x="235.9" y="18.1" font-size="16.2" font-weight="bold" fill="#111">a<tspan font-size="10.8" dx="0.9" dy="3.8">2</tspan></text>
<text x="236.3" y="190.4" font-size="16.2" font-weight="bold" fill="#111">b<tspan font-size="10.8" dx="0.9" dy="3.8">2</tspan></text>
<text x="236.4" y="360" font-size="16.2" font-weight="bold" fill="#111">c<tspan font-size="10.8" dx="0.9" dy="3.8">2</tspan></text>
<text x="236.4" y="532.1" font-size="16.2" font-weight="bold" fill="#111">d<tspan font-size="10.8" dx="0.9" dy="3.8">2</tspan></text>
<text x="570.1" y="19.5" font-size="16.2" font-weight="bold" fill="#111">a<tspan font-size="10.8" dx="0.9" dy="3.8">3</tspan></text>
<text x="570.6" y="190.6" font-size="16.2" font-weight="bold" fill="#111">b<tspan font-size="10.8" dx="0.9" dy="3.8">3</tspan></text>
<text x="570.7" y="360.6" font-size="16.2" font-weight="bold" fill="#111">c<tspan font-size="10.8" dx="0.9" dy="3.8">3</tspan></text>
<text x="570.7" y="532.1" font-size="16.2" font-weight="bold" fill="#111">d<tspan font-size="10.8" dx="0.9" dy="3.8">3</tspan></text>
<circle cx="308.02" cy="56.46" r="9.54" fill="url(#gLi)" stroke="#357d3a" stroke-width="0.45"/>
<circle cx="308.02" cy="36.39" r="9.54" fill="url(#gLi)" stroke="#357d3a" stroke-width="0.45"/>
<circle cx="285.19" cy="78.29" r="10.04" fill="url(#gLiB)" stroke="#4f9c54" stroke-width="0.45"/>
<circle cx="307.77" cy="78.29" r="10.04" fill="url(#gLiB)" stroke="#4f9c54" stroke-width="0.45"/>
<circle cx="329.86" cy="78.29" r="10.04" fill="url(#gLiB)" stroke="#4f9c54" stroke-width="0.45"/>
<circle cx="285.19" cy="99.12" r="10.04" fill="url(#gLiB)" stroke="#4f9c54" stroke-width="0.45"/>
<circle cx="307.77" cy="99.12" r="10.04" fill="url(#gLiB)" stroke="#4f9c54" stroke-width="0.45"/>
<circle cx="329.86" cy="99.12" r="10.04" fill="url(#gLiB)" stroke="#4f9c54" stroke-width="0.45"/>
<circle cx="285.19" cy="120.45" r="10.04" fill="url(#gLiB)" stroke="#4f9c54" stroke-width="0.45"/>
<circle cx="307.77" cy="120.45" r="10.04" fill="url(#gLiB)" stroke="#4f9c54" stroke-width="0.45"/>
<circle cx="329.86" cy="120.45" r="10.04" fill="url(#gLiB)" stroke="#4f9c54" stroke-width="0.45"/>
<circle cx="274.4" cy="67.75" r="9.79" fill="url(#gLi)" stroke="#357d3a" stroke-width="0.45"/>
<circle cx="296.48" cy="67.75" r="9.79" fill="url(#gLi)" stroke="#357d3a" stroke-width="0.45"/>
<circle cx="318.56" cy="67.75" r="9.79" fill="url(#gLi)" stroke="#357d3a" stroke-width="0.45"/>
<circle cx="340.9" cy="67.75" r="9.79" fill="url(#gLi)" stroke="#357d3a" stroke-width="0.45"/>
<circle cx="274.4" cy="88.33" r="9.79" fill="url(#gLi)" stroke="#357d3a" stroke-width="0.45"/>
<circle cx="296.48" cy="88.33" r="9.79" fill="url(#gLi)" stroke="#357d3a" stroke-width="0.45"/>
<circle cx="318.56" cy="88.33" r="9.79" fill="url(#gLi)" stroke="#357d3a" stroke-width="0.45"/>
<circle cx="340.9" cy="88.33" r="9.79" fill="url(#gLi)" stroke="#357d3a" stroke-width="0.45"/>
<circle cx="274.4" cy="109.91" r="9.79" fill="url(#gLi)" stroke="#357d3a" stroke-width="0.45"/>
<circle cx="296.48" cy="109.91" r="9.79" fill="url(#gLi)" stroke="#357d3a" stroke-width="0.45"/>
<circle cx="318.56" cy="109.91" r="9.79" fill="url(#gLi)" stroke="#357d3a" stroke-width="0.45"/>
<circle cx="340.9" cy="109.91" r="9.79" fill="url(#gLi)" stroke="#357d3a" stroke-width="0.45"/>
<circle cx="274.4" cy="131.24" r="9.79" fill="url(#gLi)" stroke="#357d3a" stroke-width="0.45"/>
<circle cx="296.48" cy="131.24" r="9.79" fill="url(#gLi)" stroke="#357d3a" stroke-width="0.45"/>
<circle cx="318.56" cy="131.24" r="9.79" fill="url(#gLi)" stroke="#357d3a" stroke-width="0.45"/>
<circle cx="340.9" cy="131.24" r="9.79" fill="url(#gLi)" stroke="#357d3a" stroke-width="0.45"/>
<circle cx="298.24" cy="45.67" r="9.54" fill="url(#gLi)" stroke="#357d3a" stroke-width="0.45"/>
<circle cx="316.56" cy="45.67" r="9.54" fill="url(#gLi)" stroke="#357d3a" stroke-width="0.45"/>
<line x1="366.6" y1="96.1" x2="417.8" y2="96.1" stroke="#d4602a" stroke-width="1.2"/>
<path d="M421.8,96.1 L416,93.5 L416,98.7 Z" fill="#d4602a"/>
<text x="326.8" y="34.7" font-size="14.5" text-anchor="start" font-weight="normal" fill="#231f20" >Li cluster</text>
<text x="366.6" y="85.9" font-size="14.5" text-anchor="start" font-weight="normal" fill="#231f20" >Li plating</text>
<text x="282" y="157.7" font-size="14.4" text-anchor="start" font-weight="normal" fill="#231f20" >Li (001)</text>
<circle cx="479.8" cy="51.44" r="9.03" fill="url(#gLi)" stroke="#357d3a" stroke-width="0.45"/>
<circle cx="458.47" cy="123.46" r="9.54" fill="url(#gLiB)" stroke="#4f9c54" stroke-width="0.45"/>
<circle cx="479.05" cy="123.46" r="9.54" fill="url(#gLiB)" stroke="#4f9c54" stroke-width="0.45"/>
<circle cx="499.87" cy="123.46" r="9.54" fill="url(#gLiB)" stroke="#4f9c54" stroke-width="0.45"/>
<circle cx="448.18" cy="134.25" r="9.54" fill="url(#gLi)" stroke="#357d3a" stroke-width="0.45"/>
<circle cx="469.01" cy="134.25" r="9.54" fill="url(#gLi)" stroke="#357d3a" stroke-width="0.45"/>
<circle cx="489.59" cy="134.25" r="9.54" fill="url(#gLi)" stroke="#357d3a" stroke-width="0.45"/>
<circle cx="510.41" cy="134.25" r="9.54" fill="url(#gLi)" stroke="#357d3a" stroke-width="0.45"/>
<circle cx="468.26" cy="91.59" r="9.54" fill="url(#gLiB)" stroke="#4f9c54" stroke-width="0.45"/>
<circle cx="489.59" cy="91.59" r="9.54" fill="url(#gLiB)" stroke="#4f9c54" stroke-width="0.45"/>
<circle cx="510.41" cy="93.35" r="9.54" fill="url(#gLi)" stroke="#357d3a" stroke-width="0.45"/>
<circle cx="458.47" cy="101.63" r="9.54" fill="url(#gLi)" stroke="#357d3a" stroke-width="0.45"/>
<circle cx="479.05" cy="101.63" r="9.54" fill="url(#gLi)" stroke="#357d3a" stroke-width="0.45"/>
<circle cx="499.87" cy="101.63" r="9.54" fill="url(#gLi)" stroke="#357d3a" stroke-width="0.45"/>
<circle cx="448.18" cy="113.43" r="9.54" fill="url(#gLi)" stroke="#357d3a" stroke-width="0.45"/>
<circle cx="469.01" cy="113.43" r="9.54" fill="url(#gLi)" stroke="#357d3a" stroke-width="0.45"/>
<circle cx="489.59" cy="113.43" r="9.54" fill="url(#gLi)" stroke="#357d3a" stroke-width="0.45"/>
<circle cx="510.41" cy="113.43" r="9.54" fill="url(#gLi)" stroke="#357d3a" stroke-width="0.45"/>
<circle cx="467.25" cy="72.77" r="9.03" fill="url(#gLiB)" stroke="#4f9c54" stroke-width="0.45"/>
<circle cx="489.84" cy="71.52" r="9.03" fill="url(#gLiB)" stroke="#4f9c54" stroke-width="0.45"/>
<circle cx="461.98" cy="60.98" r="9.03" fill="url(#gLi)" stroke="#357d3a" stroke-width="0.45"/>
<circle cx="496.86" cy="60.98" r="9.03" fill="url(#gLi)" stroke="#357d3a" stroke-width="0.45"/>
<circle cx="448.18" cy="70.77" r="9.54" fill="url(#gLi)" stroke="#357d3a" stroke-width="0.45"/>
<circle cx="510.41" cy="70.26" r="9.54" fill="url(#gLi)" stroke="#357d3a" stroke-width="0.45"/>
<circle cx="478.29" cy="61.48" r="9.54" fill="url(#gLi)" stroke="#357d3a" stroke-width="0.45"/>
<circle cx="457.21" cy="82.31" r="9.54" fill="url(#gLi)" stroke="#357d3a" stroke-width="0.45"/>
<circle cx="478.54" cy="81.56" r="9.54" fill="url(#gLi)" stroke="#357d3a" stroke-width="0.45"/>
<circle cx="500.38" cy="81.56" r="9.54" fill="url(#gLi)" stroke="#357d3a" stroke-width="0.45"/>
<path d="M434,61.61 L435.69,60.06 L437.37,59.51 L439.06,58.12 L440.74,57.44 L442.43,56.4 L444.11,54.33 L445.8,54 L447.33,52.32 L448.86,52.93 L450.39,51.09 L451.92,50.21 L453.45,50.72 L454.98,48.97 L456.51,48.78 L458.04,47.32 L459.57,46.77 L461.1,45.7 L462.94,42.98 L464.77,41.73 L466.6,39.4 L468.7,37.3 L470.79,33.9 L473.04,33.11 L475.28,32.25 L476.84,32.64 L478.39,32.2 L480.15,33 L481.91,33.2 L483.25,34.03 L484.59,36.39 L486.34,37.59 L488.09,38.05 L489.84,38.3 L491.59,39.4 L493.18,39.96 L494.77,42.81 L496.36,43.51 L497.95,45.33 L499.53,47 L501.12,48.1 L502.71,49.11 L504.32,50.9 L505.94,51.02 L507.55,52.79 L509.17,53.21 L510.78,55.12 L512.4,55.41 L514.06,56.61 L515.72,55.77 L517.38,56.38 L519.04,57.06 L520.7,58.09" fill="none" stroke="#ff7a5c" stroke-width="3.6" opacity="0.5" filter="url(#glow)" stroke-linecap="round"/>
<path d="M434,61.61 L435.69,60.06 L437.37,59.51 L439.06,58.12 L440.74,57.44 L442.43,56.4 L444.11,54.33 L445.8,54 L447.33,52.32 L448.86,52.93 L450.39,51.09 L451.92,50.21 L453.45,50.72 L454.98,48.97 L456.51,48.78 L458.04,47.32 L459.57,46.77 L461.1,45.7 L462.94,42.98 L464.77,41.73 L466.6,39.4 L468.7,37.3 L470.79,33.9 L473.04,33.11 L475.28,32.25 L476.84,32.64 L478.39,32.2 L480.15,33 L481.91,33.2 L483.25,34.03 L484.59,36.39 L486.34,37.59 L488.09,38.05 L489.84,38.3 L491.59,39.4 L493.18,39.96 L494.77,42.81 L496.36,43.51 L497.95,45.33 L499.53,47 L501.12,48.1 L502.71,49.11 L504.32,50.9 L505.94,51.02 L507.55,52.79 L509.17,53.21 L510.78,55.12 L512.4,55.41 L514.06,56.61 L515.72,55.77 L517.38,56.38 L519.04,57.06 L520.7,58.09" fill="none" stroke="#ee2a12" stroke-width="1.3" stroke-linejoin="round"/>
<circle cx="317.81" cy="233.97" r="9.54" fill="url(#gLiM)" stroke="#3d8742" stroke-width="0.45"/>
<circle cx="302.75" cy="259.82" r="11.04" fill="url(#gBi)" stroke="#5a1a6c" stroke-width="0.45"/>
<circle cx="335.38" cy="260.82" r="10.54" fill="url(#gBi)" stroke="#5a1a6c" stroke-width="0.45"/>
<circle cx="283.93" cy="290.93" r="10.04" fill="url(#gBi)" stroke="#5a1a6c" stroke-width="0.45"/>
<circle cx="317.81" cy="292.94" r="10.04" fill="url(#gBi)" stroke="#5a1a6c" stroke-width="0.45"/>
<circle cx="338.39" cy="275.88" r="7.53" fill="url(#gLiM)" stroke="#3d8742" stroke-width="0.45"/>
<circle cx="302.25" cy="270.36" r="9.54" fill="url(#gLiM)" stroke="#3d8742" stroke-width="0.45"/>
<circle cx="334.12" cy="269.86" r="9.54" fill="url(#gLiM)" stroke="#3d8742" stroke-width="0.45"/>
<circle cx="302.75" cy="287.92" r="11.29" fill="url(#gBi)" stroke="#5a1a6c" stroke-width="0.45"/>
<circle cx="334.12" cy="288.43" r="11.29" fill="url(#gBi)" stroke="#5a1a6c" stroke-width="0.45"/>
<circle cx="286.94" cy="263.33" r="11.79" fill="url(#gBi)" stroke="#5a1a6c" stroke-width="0.45"/>
<circle cx="317.81" cy="263.33" r="11.79" fill="url(#gBi)" stroke="#5a1a6c" stroke-width="0.45"/>
<circle cx="286.94" cy="282.4" r="10.04" fill="url(#gLiM)" stroke="#3d8742" stroke-width="0.45"/>
<circle cx="317.81" cy="282.4" r="10.04" fill="url(#gLiM)" stroke="#3d8742" stroke-width="0.45"/>
<circle cx="307.77" cy="243.26" r="10.04" fill="url(#gLiM)" stroke="#3d8742" stroke-width="0.45"/>
<circle cx="327.1" cy="243.26" r="10.04" fill="url(#gLiM)" stroke="#3d8742" stroke-width="0.45"/>
<line x1="366.6" y1="271.1" x2="417.8" y2="271.1" stroke="#d4602a" stroke-width="1.2"/>
<path d="M421.8,271.1 L416,268.5 L416,273.7 Z" fill="#d4602a"/>
<text x="279.7" y="318" font-size="14.2" text-anchor="start" font-weight="normal" fill="#231f20" >LiBi (111)</text>
<circle cx="465.24" cy="291.69" r="8.78" fill="url(#gLiM)" stroke="#3d8742" stroke-width="0.45"/>
<circle cx="481.56" cy="292.94" r="8.78" fill="url(#gLiM)" stroke="#3d8742" stroke-width="0.45"/>
<circle cx="497.87" cy="291.69" r="8.78" fill="url(#gLiM)" stroke="#3d8742" stroke-width="0.45"/>
<circle cx="480.3" cy="247.77" r="9.03" fill="url(#gLiM)" stroke="#3d8742" stroke-width="0.45"/>
<circle cx="465.75" cy="245.26" r="10.04" fill="url(#gLiM)" stroke="#3d8742" stroke-width="0.45"/>
<circle cx="498.37" cy="245.26" r="10.04" fill="url(#gLiM)" stroke="#3d8742" stroke-width="0.45"/>
<circle cx="448.43" cy="252.79" r="10.54" fill="url(#gBiB)" stroke="#73308a" stroke-width="0.45"/>
<circle cx="515.93" cy="251.54" r="10.04" fill="url(#gBiB)" stroke="#73308a" stroke-width="0.45"/>
<circle cx="515.93" cy="262.83" r="9.03" fill="url(#gLiM)" stroke="#3d8742" stroke-width="0.45"/>
<circle cx="446.42" cy="261.57" r="10.04" fill="url(#gBi)" stroke="#5a1a6c" stroke-width="0.45"/>
<circle cx="446.42" cy="284.16" r="10.04" fill="url(#gBi)" stroke="#5a1a6c" stroke-width="0.45"/>
<circle cx="484.07" cy="254.05" r="11.29" fill="url(#gBi)" stroke="#5a1a6c" stroke-width="0.45"/>
<circle cx="481.56" cy="262.83" r="9.54" fill="url(#gLiM)" stroke="#3d8742" stroke-width="0.45"/>
<circle cx="514.18" cy="282.9" r="10.04" fill="url(#gLiM)" stroke="#3d8742" stroke-width="0.45"/>
<circle cx="461.48" cy="261.57" r="12.05" fill="url(#gBi)" stroke="#5a1a6c" stroke-width="0.45"/>
<circle cx="504.14" cy="263.33" r="10.04" fill="url(#gLiM)" stroke="#3d8742" stroke-width="0.45"/>
<circle cx="464.74" cy="282.4" r="11.29" fill="url(#gBi)" stroke="#5a1a6c" stroke-width="0.45"/>
<circle cx="498.37" cy="282.4" r="11.29" fill="url(#gBi)" stroke="#5a1a6c" stroke-width="0.45"/>
<circle cx="448.18" cy="275.88" r="10.04" fill="url(#gLiM)" stroke="#3d8742" stroke-width="0.45"/>
<circle cx="481.05" cy="275.88" r="10.04" fill="url(#gLiM)" stroke="#3d8742" stroke-width="0.45"/>
<path d="M437.14,228.2 L438.64,228.24 L440.15,228.27 L441.66,228.29 L443.16,228.33 L444.67,228.27 L446.17,228.33 L447.68,228.06 L449.18,228.19 L450.69,228.33 L452.2,228.24 L453.7,228.32 L455.21,228.08 L456.71,228.19 L458.22,228.12 L459.72,228.21 L461.23,228.22 L462.74,228.05 L464.24,228.11 L465.75,228.13 L467.25,228.32 L468.76,228.28 L470.26,228.1 L471.77,228.29 L473.27,228.09 L474.78,228.23 L476.29,228.09 L477.79,228.05 L479.3,228.31 L480.8,228.11 L482.31,228.11 L483.81,228.34 L485.32,228.31 L486.83,228.14 L488.33,228.34 L489.84,228.21 L491.34,228.25 L492.85,228.2 L494.35,227.96 L495.86,228.03 L497.37,227.81 L498.87,227.74 L500.38,227.45 L501.88,227.58 L503.39,227.41 L504.89,227.45 L506.4,227.4 L507.9,227.41 L509.41,227.4 L510.92,227.48 L512.42,227.59 L513.93,227.42 L515.43,227.64 L516.94,227.55 L518.44,227.56 L519.95,227.72 L521.46,227.64 L522.96,227.6 L524.47,227.66 L525.97,227.75 L527.48,227.7" fill="none" stroke="#ff7a5c" stroke-width="3.6" opacity="0.5" filter="url(#glow)" stroke-linecap="round"/>
<path d="M437.14,228.2 L438.64,228.24 L440.15,228.27 L441.66,228.29 L443.16,228.33 L444.67,228.27 L446.17,228.33 L447.68,228.06 L449.18,228.19 L450.69,228.33 L452.2,228.24 L453.7,228.32 L455.21,228.08 L456.71,228.19 L458.22,228.12 L459.72,228.21 L461.23,228.22 L462.74,228.05 L464.24,228.11 L465.75,228.13 L467.25,228.32 L468.76,228.28 L470.26,228.1 L471.77,228.29 L473.27,228.09 L474.78,228.23 L476.29,228.09 L477.79,228.05 L479.3,228.31 L480.8,228.11 L482.31,228.11 L483.81,228.34 L485.32,228.31 L486.83,228.14 L488.33,228.34 L489.84,228.21 L491.34,228.25 L492.85,228.2 L494.35,227.96 L495.86,228.03 L497.37,227.81 L498.87,227.74 L500.38,227.45 L501.88,227.58 L503.39,227.41 L504.89,227.45 L506.4,227.4 L507.9,227.41 L509.41,227.4 L510.92,227.48 L512.42,227.59 L513.93,227.42 L515.43,227.64 L516.94,227.55 L518.44,227.56 L519.95,227.72 L521.46,227.64 L522.96,227.6 L524.47,227.66 L525.97,227.75 L527.48,227.7" fill="none" stroke="#ee2a12" stroke-width="1.3" stroke-linejoin="round" stroke-dasharray="3.1,0.9"/>
<circle cx="312.79" cy="377.64" r="9.54" fill="url(#gLiM)" stroke="#3d8742" stroke-width="0.45"/>
<circle cx="299.74" cy="386.42" r="8.78" fill="url(#gLi)" stroke="#357d3a" stroke-width="0.45"/>
<circle cx="312.79" cy="395.71" r="8.78" fill="url(#gLiM)" stroke="#3d8742" stroke-width="0.45"/>
<circle cx="305.26" cy="386.93" r="9.54" fill="url(#gLiM)" stroke="#3d8742" stroke-width="0.45"/>
<circle cx="324.08" cy="386.93" r="9.54" fill="url(#gLiM)" stroke="#3d8742" stroke-width="0.45"/>
<circle cx="308.27" cy="419.05" r="6.27" fill="url(#gAl)" stroke="#2f6288" stroke-width="0.45"/>
<circle cx="332.87" cy="419.05" r="6.27" fill="url(#gAl)" stroke="#2f6288" stroke-width="0.45"/>
<circle cx="297.74" cy="470.99" r="8.03" fill="url(#gAl)" stroke="#2f6288" stroke-width="0.45"/>
<circle cx="322.83" cy="470.99" r="8.03" fill="url(#gAl)" stroke="#2f6288" stroke-width="0.45"/>
<circle cx="297.23" cy="416.54" r="9.03" fill="url(#gAl)" stroke="#2f6288" stroke-width="0.45"/>
<circle cx="322.33" cy="416.54" r="9.54" fill="url(#gAl)" stroke="#2f6288" stroke-width="0.45"/>
<circle cx="299.74" cy="435.86" r="8.78" fill="url(#gLi)" stroke="#357d3a" stroke-width="0.45"/>
<circle cx="324.84" cy="435.86" r="8.78" fill="url(#gLi)" stroke="#357d3a" stroke-width="0.45"/>
<circle cx="299.74" cy="452.92" r="8.78" fill="url(#gLi)" stroke="#357d3a" stroke-width="0.45"/>
<circle cx="324.84" cy="452.92" r="8.78" fill="url(#gLi)" stroke="#357d3a" stroke-width="0.45"/>
<circle cx="288.45" cy="464.22" r="9.03" fill="url(#gAl)" stroke="#2f6288" stroke-width="0.45"/>
<circle cx="314.05" cy="464.22" r="9.03" fill="url(#gAl)" stroke="#2f6288" stroke-width="0.45"/>
<circle cx="339.14" cy="464.22" r="9.03" fill="url(#gAl)" stroke="#2f6288" stroke-width="0.45"/>
<circle cx="288.45" cy="446.15" r="9.03" fill="url(#gAl)" stroke="#2f6288" stroke-width="0.45"/>
<circle cx="314.05" cy="446.15" r="9.03" fill="url(#gAl)" stroke="#2f6288" stroke-width="0.45"/>
<circle cx="339.14" cy="446.15" r="9.03" fill="url(#gAl)" stroke="#2f6288" stroke-width="0.45"/>
<circle cx="288.45" cy="428.58" r="10.04" fill="url(#gLi)" stroke="#357d3a" stroke-width="0.45"/>
<circle cx="314.05" cy="428.58" r="10.04" fill="url(#gLi)" stroke="#357d3a" stroke-width="0.45"/>
<circle cx="339.64" cy="428.58" r="9.54" fill="url(#gLi)" stroke="#357d3a" stroke-width="0.45"/>
<line x1="366.6" y1="434.9" x2="417.8" y2="434.9" stroke="#d4602a" stroke-width="1.2"/>
<path d="M421.8,434.9 L416,432.3 L416,437.5 Z" fill="#d4602a"/>
<text x="281.6" y="493.6" font-size="14.2" text-anchor="start" font-weight="normal" fill="#231f20" >LiAl (111)</text>
<circle cx="477.79" cy="403.99" r="9.54" fill="url(#gLiM)" stroke="#3d8742" stroke-width="0.45"/>
<circle cx="504.14" cy="406.5" r="9.03" fill="url(#gLiM)" stroke="#3d8742" stroke-width="0.45"/>
<circle cx="460.23" cy="415.28" r="7.53" fill="url(#gAl)" stroke="#2f6288" stroke-width="0.45"/>
<circle cx="464.74" cy="469.23" r="8.03" fill="url(#gAl)" stroke="#2f6288" stroke-width="0.45"/>
<circle cx="489.59" cy="469.23" r="8.03" fill="url(#gAl)" stroke="#2f6288" stroke-width="0.45"/>
<circle cx="494.1" cy="457.94" r="7.53" fill="url(#gLiB)" stroke="#4f9c54" stroke-width="0.45"/>
<circle cx="465.24" cy="414.03" r="8.28" fill="url(#gAl)" stroke="#2f6288" stroke-width="0.45"/>
<circle cx="458.97" cy="403.49" r="9.54" fill="url(#gLi)" stroke="#357d3a" stroke-width="0.45"/>
<circle cx="477.79" cy="407.75" r="9.03" fill="url(#gLi)" stroke="#357d3a" stroke-width="0.45"/>
<circle cx="505.4" cy="421.56" r="9.54" fill="url(#gLi)" stroke="#357d3a" stroke-width="0.45"/>
<circle cx="494.6" cy="411.52" r="9.03" fill="url(#gAl)" stroke="#2f6288" stroke-width="0.45"/>
<circle cx="462.74" cy="422.81" r="6.52" fill="url(#gAl)" stroke="#2f6288" stroke-width="0.45"/>
<circle cx="455.71" cy="429.08" r="6.52" fill="url(#gLi)" stroke="#357d3a" stroke-width="0.45"/>
<circle cx="504.14" cy="437.87" r="6.52" fill="url(#gAl)" stroke="#2f6288" stroke-width="0.45"/>
<circle cx="492.85" cy="431.59" r="9.03" fill="url(#gLi)" stroke="#357d3a" stroke-width="0.45"/>
<circle cx="481.56" cy="425.32" r="9.54" fill="url(#gLi)" stroke="#357d3a" stroke-width="0.45"/>
<circle cx="456.46" cy="439.12" r="6.27" fill="url(#gAl)" stroke="#2f6288" stroke-width="0.45"/>
<circle cx="477.79" cy="439.12" r="6.27" fill="url(#gAl)" stroke="#2f6288" stroke-width="0.45"/>
<circle cx="466.5" cy="434.1" r="9.54" fill="url(#gLi)" stroke="#357d3a" stroke-width="0.45"/>
<circle cx="464.74" cy="450.41" r="9.03" fill="url(#gLi)" stroke="#357d3a" stroke-width="0.45"/>
<circle cx="486.57" cy="447.9" r="9.54" fill="url(#gLi)" stroke="#357d3a" stroke-width="0.45"/>
<circle cx="504.14" cy="446.65" r="8.78" fill="url(#gAl)" stroke="#2f6288" stroke-width="0.45"/>
<circle cx="455.96" cy="462.96" r="8.78" fill="url(#gAl)" stroke="#2f6288" stroke-width="0.45"/>
<circle cx="480.8" cy="462.96" r="8.78" fill="url(#gAl)" stroke="#2f6288" stroke-width="0.45"/>
<circle cx="506.15" cy="462.96" r="9.03" fill="url(#gAl)" stroke="#2f6288" stroke-width="0.45"/>
<path d="M445.92,385.92 L447.47,385.88 L449.01,385.83 L450.56,386.06 L452.1,385.86 L453.65,386.07 L455.19,386.03 L456.74,385.93 L458.28,386.14 L459.83,385.97 L461.37,386.16 L462.92,386.04 L464.47,386.07 L466.01,386.24 L467.56,386.42 L469.1,386.17 L470.65,386.23 L472.19,386.42 L473.74,386.58 L475.28,386.42 L476.88,386.5 L478.48,386.47 L480.07,386.75 L481.67,386.42 L483.27,386.8 L484.86,386.61 L486.46,386.6 L488.06,386.64 L489.65,386.76 L491.25,387.01 L492.85,386.93 L494.35,387.1 L495.86,387.56 L497.37,387.89 L498.87,388.08 L500.38,388.43 L501.88,388.38 L503.39,388.11 L504.89,388.03 L506.4,388.01 L507.9,388.13 L509.41,387.95 L510.92,387.83 L512.42,387.86 L513.93,387.74 L515.43,387.68 L517.19,387.35 L518.95,387.3 L520.7,387.01 L522.46,386.57 L524.22,386.42" fill="none" stroke="#ff7a5c" stroke-width="3.6" opacity="0.5" filter="url(#glow)" stroke-linecap="round"/>
<path d="M445.92,385.92 L447.47,385.88 L449.01,385.83 L450.56,386.06 L452.1,385.86 L453.65,386.07 L455.19,386.03 L456.74,385.93 L458.28,386.14 L459.83,385.97 L461.37,386.16 L462.92,386.04 L464.47,386.07 L466.01,386.24 L467.56,386.42 L469.1,386.17 L470.65,386.23 L472.19,386.42 L473.74,386.58 L475.28,386.42 L476.88,386.5 L478.48,386.47 L480.07,386.75 L481.67,386.42 L483.27,386.8 L484.86,386.61 L486.46,386.6 L488.06,386.64 L489.65,386.76 L491.25,387.01 L492.85,386.93 L494.35,387.1 L495.86,387.56 L497.37,387.89 L498.87,388.08 L500.38,388.43 L501.88,388.38 L503.39,388.11 L504.89,388.03 L506.4,388.01 L507.9,388.13 L509.41,387.95 L510.92,387.83 L512.42,387.86 L513.93,387.74 L515.43,387.68 L517.19,387.35 L518.95,387.3 L520.7,387.01 L522.46,386.57 L524.22,386.42" fill="none" stroke="#ee2a12" stroke-width="1.3" stroke-linejoin="round" stroke-dasharray="3.1,0.9"/>
<circle cx="300.24" cy="552.92" r="8.78" fill="url(#gLiM)" stroke="#3d8742" stroke-width="0.45"/>
<circle cx="288.2" cy="560.95" r="8.28" fill="url(#gLi)" stroke="#357d3a" stroke-width="0.45"/>
<circle cx="300.24" cy="569.74" r="8.28" fill="url(#gLi)" stroke="#357d3a" stroke-width="0.45"/>
<circle cx="293.22" cy="561.71" r="9.03" fill="url(#gLiM)" stroke="#3d8742" stroke-width="0.45"/>
<circle cx="310.78" cy="561.71" r="9.03" fill="url(#gLiM)" stroke="#3d8742" stroke-width="0.45"/>
<circle cx="272.64" cy="612.4" r="8.53" fill="url(#gLi)" stroke="#357d3a" stroke-width="0.45"/>
<circle cx="307.77" cy="625.44" r="8.53" fill="url(#gLi)" stroke="#357d3a" stroke-width="0.45"/>
<circle cx="285.19" cy="607.38" r="7.53" fill="url(#gLi)" stroke="#357d3a" stroke-width="0.45"/>
<circle cx="327.85" cy="612.4" r="7.53" fill="url(#gLi)" stroke="#357d3a" stroke-width="0.45"/>
<circle cx="310.28" cy="593.57" r="7.53" fill="url(#gLi)" stroke="#357d3a" stroke-width="0.45"/>
<circle cx="281.42" cy="594.83" r="7.03" fill="url(#gLi)" stroke="#357d3a" stroke-width="0.45"/>
<circle cx="265.11" cy="582.28" r="7.53" fill="url(#gLi)" stroke="#357d3a" stroke-width="0.45"/>
<circle cx="273.9" cy="582.28" r="7.03" fill="url(#gAu)" stroke="#a05f10" stroke-width="0.45"/>
<circle cx="293.97" cy="582.28" r="7.03" fill="url(#gAu)" stroke="#a05f10" stroke-width="0.45"/>
<circle cx="312.79" cy="581.53" r="7.53" fill="url(#gLi)" stroke="#357d3a" stroke-width="0.45"/>
<circle cx="341.65" cy="582.28" r="7.53" fill="url(#gAu)" stroke="#a05f10" stroke-width="0.45"/>
<circle cx="250.06" cy="597.34" r="7.03" fill="url(#gLi)" stroke="#357d3a" stroke-width="0.45"/>
<circle cx="349.18" cy="601.1" r="7.03" fill="url(#gLi)" stroke="#357d3a" stroke-width="0.45"/>
<circle cx="249.55" cy="610.39" r="7.03" fill="url(#gAu)" stroke="#a05f10" stroke-width="0.45"/>
<circle cx="307.77" cy="607.38" r="7.53" fill="url(#gAu)" stroke="#a05f10" stroke-width="0.45"/>
<circle cx="268.88" cy="636.23" r="8.28" fill="url(#gLi)" stroke="#357d3a" stroke-width="0.45"/>
<circle cx="288.95" cy="629.96" r="8.28" fill="url(#gLi)" stroke="#357d3a" stroke-width="0.45"/>
<circle cx="340.4" cy="628.71" r="9.03" fill="url(#gLi)" stroke="#357d3a" stroke-width="0.45"/>
<circle cx="327.85" cy="627.45" r="7.03" fill="url(#gAu)" stroke="#a05f10" stroke-width="0.45"/>
<circle cx="334.12" cy="630.71" r="8.28" fill="url(#gLi)" stroke="#357d3a" stroke-width="0.45"/>
<circle cx="348.43" cy="611.89" r="7.53" fill="url(#gAu)" stroke="#a05f10" stroke-width="0.45"/>
<circle cx="347.42" cy="621.18" r="7.78" fill="url(#gLi)" stroke="#357d3a" stroke-width="0.45"/>
<circle cx="253.07" cy="634.98" r="7.53" fill="url(#gAu)" stroke="#a05f10" stroke-width="0.45"/>
<circle cx="272.14" cy="631.97" r="7.53" fill="url(#gAu)" stroke="#a05f10" stroke-width="0.45"/>
<circle cx="347.92" cy="635.48" r="8.03" fill="url(#gAu)" stroke="#a05f10" stroke-width="0.45"/>
<circle cx="253.07" cy="587.8" r="8.28" fill="url(#gAu)" stroke="#a05f10" stroke-width="0.45"/>
<circle cx="319.07" cy="583.54" r="8.28" fill="url(#gAu)" stroke="#a05f10" stroke-width="0.45"/>
<circle cx="347.42" cy="587.8" r="8.28" fill="url(#gAu)" stroke="#a05f10" stroke-width="0.45"/>
<circle cx="268.88" cy="587.8" r="9.03" fill="url(#gLi)" stroke="#357d3a" stroke-width="0.45"/>
<circle cx="286.44" cy="589.06" r="9.03" fill="url(#gLi)" stroke="#357d3a" stroke-width="0.45"/>
<circle cx="304.51" cy="591.07" r="9.03" fill="url(#gLi)" stroke="#357d3a" stroke-width="0.45"/>
<circle cx="329.86" cy="589.81" r="9.54" fill="url(#gLi)" stroke="#357d3a" stroke-width="0.45"/>
<circle cx="276.41" cy="603.61" r="8.28" fill="url(#gAu)" stroke="#a05f10" stroke-width="0.45"/>
<circle cx="260.09" cy="604.37" r="9.03" fill="url(#gLi)" stroke="#357d3a" stroke-width="0.45"/>
<circle cx="294.47" cy="601.1" r="9.03" fill="url(#gLi)" stroke="#357d3a" stroke-width="0.45"/>
<circle cx="319.82" cy="600.35" r="9.03" fill="url(#gLi)" stroke="#357d3a" stroke-width="0.45"/>
<circle cx="338.39" cy="602.36" r="9.03" fill="url(#gLi)" stroke="#357d3a" stroke-width="0.45"/>
<circle cx="259.34" cy="621.18" r="9.03" fill="url(#gLi)" stroke="#357d3a" stroke-width="0.45"/>
<circle cx="278.91" cy="619.92" r="9.03" fill="url(#gLi)" stroke="#357d3a" stroke-width="0.45"/>
<circle cx="298.49" cy="617.41" r="9.03" fill="url(#gLi)" stroke="#357d3a" stroke-width="0.45"/>
<circle cx="317.81" cy="616.66" r="9.03" fill="url(#gLi)" stroke="#357d3a" stroke-width="0.45"/>
<circle cx="335.38" cy="619.17" r="9.03" fill="url(#gLi)" stroke="#357d3a" stroke-width="0.45"/>
<circle cx="300.24" cy="634.98" r="8.28" fill="url(#gAu)" stroke="#a05f10" stroke-width="0.45"/>
<circle cx="316.56" cy="634.98" r="9.03" fill="url(#gLi)" stroke="#357d3a" stroke-width="0.45"/>
<line x1="366.6" y1="606.1" x2="417.8" y2="606.1" stroke="#d4602a" stroke-width="1.2"/>
<path d="M421.8,606.1 L416,603.5 L416,608.7 Z" fill="#d4602a"/>
<text x="279.6" y="659.3" font-size="14.2" text-anchor="start" font-weight="normal" fill="#231f20" >LiAu (011)</text>
<circle cx="485.32" cy="572.24" r="8.28" fill="url(#gLi)" stroke="#357d3a" stroke-width="0.45"/>
<circle cx="452.7" cy="582.28" r="7.53" fill="url(#gLi)" stroke="#357d3a" stroke-width="0.45"/>
<circle cx="475.28" cy="580.27" r="8.28" fill="url(#gLi)" stroke="#357d3a" stroke-width="0.45"/>
<circle cx="492.85" cy="580.27" r="8.28" fill="url(#gLi)" stroke="#357d3a" stroke-width="0.45"/>
<circle cx="512.92" cy="577.26" r="7.53" fill="url(#gLi)" stroke="#357d3a" stroke-width="0.45"/>
<circle cx="503.39" cy="586.05" r="7.03" fill="url(#gAu)" stroke="#a05f10" stroke-width="0.45"/>
<circle cx="527.98" cy="586.05" r="7.03" fill="url(#gAu)" stroke="#a05f10" stroke-width="0.45"/>
<circle cx="530.49" cy="597.34" r="7.03" fill="url(#gLi)" stroke="#357d3a" stroke-width="0.45"/>
<circle cx="440.65" cy="607.38" r="6.52" fill="url(#gAu)" stroke="#a05f10" stroke-width="0.45"/>
<circle cx="475.28" cy="606.12" r="7.53" fill="url(#gLi)" stroke="#357d3a" stroke-width="0.45"/>
<circle cx="490.34" cy="606.12" r="7.03" fill="url(#gAu)" stroke="#a05f10" stroke-width="0.45"/>
<circle cx="534.25" cy="617.41" r="7.03" fill="url(#gLi)" stroke="#357d3a" stroke-width="0.45"/>
<circle cx="457.21" cy="634.98" r="7.03" fill="url(#gLi)" stroke="#357d3a" stroke-width="0.45"/>
<circle cx="459.47" cy="629.46" r="7.53" fill="url(#gAu)" stroke="#a05f10" stroke-width="0.45"/>
<circle cx="475.28" cy="628.71" r="7.53" fill="url(#gLi)" stroke="#357d3a" stroke-width="0.45"/>
<circle cx="510.41" cy="627.45" r="7.03" fill="url(#gAu)" stroke="#a05f10" stroke-width="0.45"/>
<circle cx="524.22" cy="627.45" r="8.28" fill="url(#gLi)" stroke="#357d3a" stroke-width="0.45"/>
<circle cx="532.5" cy="610.39" r="7.53" fill="url(#gAu)" stroke="#a05f10" stroke-width="0.45"/>
<circle cx="441.41" cy="590.31" r="8.03" fill="url(#gAu)" stroke="#a05f10" stroke-width="0.45"/>
<circle cx="457.21" cy="586.55" r="9.03" fill="url(#gLi)" stroke="#357d3a" stroke-width="0.45"/>
<circle cx="473.53" cy="590.56" r="9.03" fill="url(#gLi)" stroke="#357d3a" stroke-width="0.45"/>
<circle cx="489.84" cy="591.82" r="9.03" fill="url(#gLi)" stroke="#357d3a" stroke-width="0.45"/>
<circle cx="515.93" cy="587.8" r="9.03" fill="url(#gLi)" stroke="#357d3a" stroke-width="0.45"/>
<circle cx="449.44" cy="603.11" r="8.78" fill="url(#gLi)" stroke="#357d3a" stroke-width="0.45"/>
<circle cx="464.49" cy="602.36" r="8.28" fill="url(#gAu)" stroke="#a05f10" stroke-width="0.45"/>
<circle cx="505.4" cy="599.85" r="9.03" fill="url(#gLi)" stroke="#357d3a" stroke-width="0.45"/>
<circle cx="522.46" cy="603.11" r="9.03" fill="url(#gLi)" stroke="#357d3a" stroke-width="0.45"/>
<circle cx="446.93" cy="619.92" r="9.03" fill="url(#gLi)" stroke="#357d3a" stroke-width="0.45"/>
<circle cx="465.75" cy="618.67" r="9.03" fill="url(#gLi)" stroke="#357d3a" stroke-width="0.45"/>
<circle cx="484.82" cy="616.91" r="9.03" fill="url(#gLi)" stroke="#357d3a" stroke-width="0.45"/>
<circle cx="503.39" cy="615.66" r="9.03" fill="url(#gLi)" stroke="#357d3a" stroke-width="0.45"/>
<circle cx="519.7" cy="619.17" r="9.03" fill="url(#gLi)" stroke="#357d3a" stroke-width="0.45"/>
<circle cx="441.41" cy="632.97" r="8.03" fill="url(#gAu)" stroke="#a05f10" stroke-width="0.45"/>
<circle cx="486.57" cy="632.47" r="8.28" fill="url(#gAu)" stroke="#a05f10" stroke-width="0.45"/>
<circle cx="501.63" cy="632.47" r="9.03" fill="url(#gLi)" stroke="#357d3a" stroke-width="0.45"/>
<circle cx="531.24" cy="632.97" r="8.03" fill="url(#gAu)" stroke="#a05f10" stroke-width="0.45"/>
<path d="M434.63,576.51 L436.14,576.13 L437.64,575.72 L439.15,575.23 L440.65,575.31 L442.16,574.44 L443.66,574.38 L445.17,574.26 L446.68,573.41 L448.18,573.34 L449.69,573.03 L451.19,572.32 L452.7,572.24 L454.29,571.6 L455.89,571.23 L457.49,570.5 L459.09,570.1 L460.68,569.19 L462.28,568.66 L463.88,568.02 L465.47,567.69 L467.07,567.37 L468.67,566.6 L470.26,565.97 L471.77,565.38 L473.27,564.4 L474.78,563.86 L476.29,562.72 L477.79,562.08 L479.3,561.56 L480.8,560.84 L482.31,559.9 L483.81,558.95 L485.32,558.44 L486.99,558.43 L488.67,558.52 L490.34,558.69 L492.01,559.13 L493.68,558.89 L495.36,559.2 L497.03,560.56 L498.7,561.68 L500.38,562.32 L502.05,563.64 L503.72,564.84 L505.4,565.97 L506.9,565.94 L508.41,566.43 L509.91,566.97 L511.42,566.74 L512.92,567.28 L514.43,567.25 L515.93,567.78 L517.44,568.22 L518.95,568.05 L520.45,568.48 L522.12,568.9 L523.8,569.65 L525.47,570.64 L527.14,571.03 L528.82,571.79 L530.49,572.75 L532.25,572.93 L534,573.38 L535.76,573.26 L537.52,573.5" fill="none" stroke="#ff7a5c" stroke-width="3.6" opacity="0.5" filter="url(#glow)" stroke-linecap="round"/>
<path d="M434.63,576.51 L436.14,576.13 L437.64,575.72 L439.15,575.23 L440.65,575.31 L442.16,574.44 L443.66,574.38 L445.17,574.26 L446.68,573.41 L448.18,573.34 L449.69,573.03 L451.19,572.32 L452.7,572.24 L454.29,571.6 L455.89,571.23 L457.49,570.5 L459.09,570.1 L460.68,569.19 L462.28,568.66 L463.88,568.02 L465.47,567.69 L467.07,567.37 L468.67,566.6 L470.26,565.97 L471.77,565.38 L473.27,564.4 L474.78,563.86 L476.29,562.72 L477.79,562.08 L479.3,561.56 L480.8,560.84 L482.31,559.9 L483.81,558.95 L485.32,558.44 L486.99,558.43 L488.67,558.52 L490.34,558.69 L492.01,559.13 L493.68,558.89 L495.36,559.2 L497.03,560.56 L498.7,561.68 L500.38,562.32 L502.05,563.64 L503.72,564.84 L505.4,565.97 L506.9,565.94 L508.41,566.43 L509.91,566.97 L511.42,566.74 L512.92,567.28 L514.43,567.25 L515.93,567.78 L517.44,568.22 L518.95,568.05 L520.45,568.48 L522.12,568.9 L523.8,569.65 L525.47,570.64 L527.14,571.03 L528.82,571.79 L530.49,572.75 L532.25,572.93 L534,573.38 L535.76,573.26 L537.52,573.5" fill="none" stroke="#ee2a12" stroke-width="1.3" stroke-linejoin="round" stroke-dasharray="3.1,0.9"/>
<rect x="628.2" y="27.5" width="144.6" height="108.6" fill="none" stroke="#7d7d7d" stroke-width="1"/>
<line x1="638.7" y1="136.1" x2="638.7" y2="138.7" stroke="#7d7d7d" stroke-width="0.9"/>
<text x="638.7" y="149.9" font-size="10.7" text-anchor="middle" font-weight="normal" fill="#231f20" >0</text>
<line x1="679.9" y1="136.1" x2="679.9" y2="138.7" stroke="#7d7d7d" stroke-width="0.9"/>
<text x="679.9" y="149.9" font-size="10.7" text-anchor="middle" font-weight="normal" fill="#231f20" >10</text>
<line x1="721.1" y1="136.1" x2="721.1" y2="138.7" stroke="#7d7d7d" stroke-width="0.9"/>
<text x="721.1" y="149.9" font-size="10.7" text-anchor="middle" font-weight="normal" fill="#231f20" >20</text>
<line x1="762.3" y1="136.1" x2="762.3" y2="138.7" stroke="#7d7d7d" stroke-width="0.9"/>
<text x="762.3" y="149.9" font-size="10.7" text-anchor="middle" font-weight="normal" fill="#231f20" >30</text>
<line x1="659.3" y1="136.1" x2="659.3" y2="137.7" stroke="#7d7d7d" stroke-width="0.8"/>
<line x1="700.5" y1="136.1" x2="700.5" y2="137.7" stroke="#7d7d7d" stroke-width="0.8"/>
<line x1="741.7" y1="136.1" x2="741.7" y2="137.7" stroke="#7d7d7d" stroke-width="0.8"/>
<line x1="625.6" y1="27.65" x2="628.2" y2="27.65" stroke="#7d7d7d" stroke-width="0.9"/>
<text x="623.6" y="31.35" font-size="10.7" text-anchor="end" font-weight="normal" fill="#231f20" >3</text>
<line x1="625.6" y1="48" x2="628.2" y2="48" stroke="#7d7d7d" stroke-width="0.9"/>
<text x="623.6" y="51.7" font-size="10.7" text-anchor="end" font-weight="normal" fill="#231f20" >0</text>
<line x1="625.6" y1="68.35" x2="628.2" y2="68.35" stroke="#7d7d7d" stroke-width="0.9"/>
<text x="623.6" y="72.05" font-size="10.7" text-anchor="end" font-weight="normal" fill="#231f20" >-3</text>
<line x1="625.6" y1="88.7" x2="628.2" y2="88.7" stroke="#7d7d7d" stroke-width="0.9"/>
<text x="623.6" y="92.4" font-size="10.7" text-anchor="end" font-weight="normal" fill="#231f20" >-6</text>
<line x1="625.6" y1="109.05" x2="628.2" y2="109.05" stroke="#7d7d7d" stroke-width="0.9"/>
<text x="623.6" y="112.75" font-size="10.7" text-anchor="end" font-weight="normal" fill="#231f20" >-9</text>
<line x1="625.6" y1="129.4" x2="628.2" y2="129.4" stroke="#7d7d7d" stroke-width="0.9"/>
<text x="623.6" y="133.1" font-size="10.7" text-anchor="end" font-weight="normal" fill="#231f20" >-12</text>
<line x1="626.6" y1="37.83" x2="628.2" y2="37.83" stroke="#7d7d7d" stroke-width="0.8"/>
<line x1="626.6" y1="58.17" x2="628.2" y2="58.17" stroke="#7d7d7d" stroke-width="0.8"/>
<line x1="626.6" y1="78.52" x2="628.2" y2="78.52" stroke="#7d7d7d" stroke-width="0.8"/>
<line x1="626.6" y1="98.87" x2="628.2" y2="98.87" stroke="#7d7d7d" stroke-width="0.8"/>
<line x1="626.6" y1="119.22" x2="628.2" y2="119.22" stroke="#7d7d7d" stroke-width="0.8"/>
<text x="700.5" y="161.9" font-size="11.6" text-anchor="middle" font-weight="normal" fill="#231f20" >Distance (Ang)</text>
<text transform="translate(600.9,89.5) rotate(-90)" font-size="11.6" text-anchor="middle" fill="#231f20">Planar average-potential (eV)</text>
<path d="M638.7,79.54 L639.73,90.05 L640.76,106.33 L641.79,121.26 L642.7,127.36 L643.15,119.2 L643.61,113.36 L644.07,108.5 L644.52,104.49 L644.98,101.32 L645.43,99.03 L645.89,97.64 L646.35,97.18 L646.8,97.64 L647.26,99.03 L647.72,101.32 L648.17,104.49 L648.63,108.5 L649.08,113.36 L649.54,119.2 L650,127.36 L650.45,118.83 L650.91,112.73 L651.37,107.65 L651.82,103.46 L652.28,100.15 L652.73,97.76 L653.19,96.31 L653.65,95.82 L654.1,96.31 L654.56,97.76 L655.02,100.15 L655.47,103.46 L655.93,107.65 L656.39,112.73 L656.84,118.83 L657.3,127.36 L657.75,118.83 L658.21,112.73 L658.67,107.65 L659.12,103.46 L659.58,100.15 L660.04,97.76 L660.49,96.31 L660.95,95.82 L661.4,96.31 L661.86,97.76 L662.32,100.15 L662.77,103.46 L663.23,107.65 L663.69,112.73 L664.14,118.83 L664.6,127.36 L665.05,118.83 L665.51,112.73 L665.97,107.65 L666.42,103.46 L666.88,100.15 L667.34,97.76 L667.79,96.31 L668.25,95.82 L668.7,96.31 L669.16,97.76 L669.62,100.15 L670.07,103.46 L670.53,107.65 L670.99,112.73 L671.44,118.83 L671.9,127.36 L672.36,118.83 L672.81,112.73 L673.27,107.65 L673.72,103.46 L674.18,100.15 L674.64,97.76 L675.09,96.31 L675.55,95.82 L676.01,96.31 L676.46,97.76 L676.92,100.15 L677.37,103.46 L677.83,107.65 L678.29,112.73 L678.74,118.83 L679.2,127.36 L679.66,119.2 L680.11,113.36 L680.57,108.5 L681.02,104.49 L681.48,101.32 L681.94,99.03 L682.39,97.64 L682.85,97.18 L683.31,97.64 L683.76,99.03 L684.22,101.32 L684.68,104.49 L685.13,108.5 L685.59,113.36 L686.04,119.2 L686.5,127.36 L686.59,125.63 L686.7,123.34 L686.83,120.61 L686.99,117.57 L687.15,114.35 L687.33,111.1 L687.53,107.93 L687.73,104.98 L687.94,102.13 L688.17,99.21 L688.42,96.26 L688.68,93.32 L688.95,90.44 L689.22,87.66 L689.51,85.03 L689.79,82.59 L690.08,80.34 L690.38,78.23 L690.68,76.24 L691,74.37 L691.31,72.59 L691.63,70.89 L691.95,69.26 L692.26,67.67 L692.57,66.14 L692.88,64.68 L693.19,63.3 L693.5,61.99 L693.81,60.76 L694.11,59.59 L694.42,58.51 L694.73,57.5 L695.04,56.58 L695.35,55.76 L695.65,55.02 L695.96,54.36 L696.26,53.75 L696.57,53.17 L696.89,52.62 L697.2,52.07 L697.51,51.56 L697.81,51.1 L698.1,50.69 L698.4,50.31 L698.72,49.94 L699.06,49.55 L699.45,49.14 L699.88,48.68 L700.37,48.17 L700.91,47.62 L701.48,47.04 L702.08,46.45 L702.71,45.87 L703.34,45.3 L703.98,44.76 L704.62,44.27 L705.26,43.81 L705.93,43.37 L706.6,42.95 L707.29,42.55 L707.97,42.18 L708.65,41.83 L709.32,41.51 L709.98,41.22 L710.61,40.96 L711.24,40.73 L711.86,40.54 L712.47,40.37 L713.08,40.22 L713.69,40.09 L714.3,39.97 L714.92,39.86 L715.55,39.77 L716.21,39.72 L716.88,39.69 L717.55,39.67 L718.19,39.65 L718.8,39.63 L719.36,39.59 L719.86,39.52 L720.3,39.43 L720.68,39.31 L721.01,39.19 L721.31,39.05 L721.58,38.92 L721.83,38.77 L722.08,38.64 L722.34,38.5 L722.58,38.36 L722.8,38.2 L723,38.03 L723.19,37.87 L723.37,37.72 L723.56,37.6 L723.76,37.52 L723.98,37.49 L724.2,37.52 L724.39,37.61 L724.58,37.75 L724.78,37.91 L725.01,38.08 L725.29,38.25 L725.63,38.4 L726.04,38.5 L726.55,38.58 L727.14,38.64 L727.79,38.69 L728.49,38.72 L729.22,38.76 L729.95,38.78 L730.69,38.81 L731.4,38.84 L732.13,38.87 L732.9,38.88 L733.7,38.88 L734.49,38.88 L735.26,38.89 L735.98,38.92 L736.62,38.97 L737.17,39.05 L737.57,39.17 L737.84,39.33 L738.01,39.51 L738.15,39.71 L738.29,39.91 L738.48,40.1 L738.78,40.27 L739.23,40.4 L739.85,40.5 L740.6,40.58 L741.44,40.64 L742.34,40.68 L743.27,40.72 L744.18,40.77 L745.04,40.81 L745.82,40.88 L746.52,40.94 L747.18,40.99 L747.81,41.04 L748.42,41.1 L749.01,41.17 L749.6,41.26 L750.18,41.39 L750.76,41.56 L751.35,41.76 L751.93,41.99 L752.49,42.25 L753.06,42.53 L753.61,42.84 L754.17,43.18 L754.73,43.54 L755.3,43.93 L755.87,44.35 L756.46,44.8 L757.05,45.27 L757.64,45.77 L758.22,46.3 L758.78,46.85 L759.32,47.41 L759.83,48 L760.3,48.6 L760.76,49.23 L761.19,49.88 L761.6,50.54 L762,51.23 L762.39,51.94 L762.76,52.67 L763.12,53.43 L763.48,54.2 L763.81,54.99 L764.13,55.8 L764.44,56.63 L764.74,57.48 L765.03,58.36 L765.31,59.27 L765.6,60.21 L765.87,61.19 L766.14,62.2 L766.4,63.25 L766.65,64.32 L766.9,65.41 L767.15,66.5 L767.4,67.6 L767.66,68.69 L767.93,69.83 L768.22,71.08 L768.52,72.36 L768.81,73.63 L769.09,74.83 L769.35,75.91 L769.56,76.82 L769.72,77.51" fill="none" stroke="#2342ad" stroke-width="1.7" stroke-linejoin="round" stroke-linecap="round"/>
<rect x="628.2" y="197" width="145.3" height="107.8" fill="none" stroke="#7d7d7d" stroke-width="1"/>
<line x1="639.2" y1="304.8" x2="639.2" y2="307.4" stroke="#7d7d7d" stroke-width="0.9"/>
<text x="639.2" y="319.4" font-size="10.7" text-anchor="middle" font-weight="normal" fill="#231f20" >0</text>
<line x1="680.3" y1="304.8" x2="680.3" y2="307.4" stroke="#7d7d7d" stroke-width="0.9"/>
<text x="680.3" y="319.4" font-size="10.7" text-anchor="middle" font-weight="normal" fill="#231f20" >10</text>
<line x1="721.4" y1="304.8" x2="721.4" y2="307.4" stroke="#7d7d7d" stroke-width="0.9"/>
<text x="721.4" y="319.4" font-size="10.7" text-anchor="middle" font-weight="normal" fill="#231f20" >20</text>
<line x1="762.5" y1="304.8" x2="762.5" y2="307.4" stroke="#7d7d7d" stroke-width="0.9"/>
<text x="762.5" y="319.4" font-size="10.7" text-anchor="middle" font-weight="normal" fill="#231f20" >30</text>
<line x1="659.75" y1="304.8" x2="659.75" y2="306.4" stroke="#7d7d7d" stroke-width="0.8"/>
<line x1="700.85" y1="304.8" x2="700.85" y2="306.4" stroke="#7d7d7d" stroke-width="0.8"/>
<line x1="741.95" y1="304.8" x2="741.95" y2="306.4" stroke="#7d7d7d" stroke-width="0.8"/>
<line x1="625.6" y1="211.2" x2="628.2" y2="211.2" stroke="#7d7d7d" stroke-width="0.9"/>
<text x="623.6" y="214.9" font-size="10.7" text-anchor="end" font-weight="normal" fill="#231f20" >0</text>
<line x1="625.6" y1="231.25" x2="628.2" y2="231.25" stroke="#7d7d7d" stroke-width="0.9"/>
<text x="623.6" y="234.95" font-size="10.7" text-anchor="end" font-weight="normal" fill="#231f20" >-5</text>
<line x1="625.6" y1="251.3" x2="628.2" y2="251.3" stroke="#7d7d7d" stroke-width="0.9"/>
<text x="623.6" y="255" font-size="10.7" text-anchor="end" font-weight="normal" fill="#231f20" >-10</text>
<line x1="625.6" y1="271.35" x2="628.2" y2="271.35" stroke="#7d7d7d" stroke-width="0.9"/>
<text x="623.6" y="275.05" font-size="10.7" text-anchor="end" font-weight="normal" fill="#231f20" >-15</text>
<line x1="625.6" y1="291.4" x2="628.2" y2="291.4" stroke="#7d7d7d" stroke-width="0.9"/>
<text x="623.6" y="295.1" font-size="10.7" text-anchor="end" font-weight="normal" fill="#231f20" >-20</text>
<line x1="626.6" y1="201.17" x2="628.2" y2="201.17" stroke="#7d7d7d" stroke-width="0.8"/>
<line x1="626.6" y1="221.22" x2="628.2" y2="221.22" stroke="#7d7d7d" stroke-width="0.8"/>
<line x1="626.6" y1="241.27" x2="628.2" y2="241.27" stroke="#7d7d7d" stroke-width="0.8"/>
<line x1="626.6" y1="261.32" x2="628.2" y2="261.32" stroke="#7d7d7d" stroke-width="0.8"/>
<line x1="626.6" y1="281.38" x2="628.2" y2="281.38" stroke="#7d7d7d" stroke-width="0.8"/>
<line x1="626.6" y1="301.42" x2="628.2" y2="301.42" stroke="#7d7d7d" stroke-width="0.8"/>
<text x="700.85" y="331.9" font-size="11.6" text-anchor="middle" font-weight="normal" fill="#231f20" >Distance (Ang)</text>
<text transform="translate(600.9,259.5) rotate(-90)" font-size="11.6" text-anchor="middle" fill="#231f20">Planar average-potential (eV)</text>
<path d="M639.2,239.27C639.57,244.68 639.63,242.28 640.43,257.31C641.23,272.35 641.05,276.64 641.87,289.39C642.7,302.15 642.39,298.62 643.19,299.82C643.99,301.02 643.52,303.15 644.54,293.4C645.57,283.66 645.24,279.25 646.6,267.34C647.95,255.43 647.71,257.07 649.06,253.71C650.42,250.34 650.13,255.99 651.12,256.11C652.11,256.23 651.61,253.63 652.35,254.11C653.09,254.59 652.72,250.14 653.59,257.72C654.45,265.29 654.37,266.86 655.23,279.37C656.09,291.88 655.78,291.96 656.46,299.42C657.14,306.88 656.81,306.04 657.49,304.23C658.17,302.43 658.04,304.47 658.72,293.4C659.4,282.34 659.07,280.39 659.75,267.34C660.43,254.29 659.87,261.93 660.98,249.9C662.09,237.87 661.54,237.77 663.45,227.24C665.36,216.71 664.64,220.58 667.35,214.81C670.07,209.03 668.73,211 672.49,207.99C676.25,204.98 676.19,205.99 679.89,204.78C683.59,203.58 680.38,204.1 684.82,203.98C689.26,203.86 689.88,204.08 694.69,204.38C699.49,204.68 698.63,204.74 700.85,204.98C703.07,205.23 701.22,205.31 702.08,205.19C702.95,205.06 697.93,204.7 703.73,204.58C709.52,204.46 712.4,204.72 721.4,204.78C730.4,204.84 727.57,204.96 733.73,204.78C739.89,204.6 738.25,204.06 741.95,204.18C745.65,204.3 743.72,204.34 746.06,205.19C748.4,206.03 747.66,205.55 749.76,206.99C751.86,208.43 751.2,208.01 753.05,210C754.9,211.98 754.44,211.2 755.92,213.61C757.4,216.01 756.87,215.01 757.98,218.02C759.09,221.02 758.76,220.26 759.62,223.63C760.49,227 760.12,225.52 760.86,229.24C761.6,232.97 761.72,234.02 762.09,236.06" fill="none" stroke="#2342ad" stroke-width="1.7" stroke-linejoin="round" stroke-linecap="round"/>
<rect x="628.2" y="366.7" width="145.3" height="107.4" fill="none" stroke="#7d7d7d" stroke-width="1"/>
<line x1="639.2" y1="474.1" x2="639.2" y2="476.7" stroke="#7d7d7d" stroke-width="0.9"/>
<text x="639.2" y="488.7" font-size="10.7" text-anchor="middle" font-weight="normal" fill="#231f20" >0</text>
<line x1="680.3" y1="474.1" x2="680.3" y2="476.7" stroke="#7d7d7d" stroke-width="0.9"/>
<text x="680.3" y="488.7" font-size="10.7" text-anchor="middle" font-weight="normal" fill="#231f20" >10</text>
<line x1="721.4" y1="474.1" x2="721.4" y2="476.7" stroke="#7d7d7d" stroke-width="0.9"/>
<text x="721.4" y="488.7" font-size="10.7" text-anchor="middle" font-weight="normal" fill="#231f20" >20</text>
<line x1="762.5" y1="474.1" x2="762.5" y2="476.7" stroke="#7d7d7d" stroke-width="0.9"/>
<text x="762.5" y="488.7" font-size="10.7" text-anchor="middle" font-weight="normal" fill="#231f20" >30</text>
<line x1="659.75" y1="474.1" x2="659.75" y2="475.7" stroke="#7d7d7d" stroke-width="0.8"/>
<line x1="700.85" y1="474.1" x2="700.85" y2="475.7" stroke="#7d7d7d" stroke-width="0.8"/>
<line x1="741.95" y1="474.1" x2="741.95" y2="475.7" stroke="#7d7d7d" stroke-width="0.8"/>
<line x1="625.6" y1="366.7" x2="628.2" y2="366.7" stroke="#7d7d7d" stroke-width="0.9"/>
<text x="623.6" y="370.4" font-size="10.7" text-anchor="end" font-weight="normal" fill="#231f20" >5</text>
<line x1="625.6" y1="388.2" x2="628.2" y2="388.2" stroke="#7d7d7d" stroke-width="0.9"/>
<text x="623.6" y="391.9" font-size="10.7" text-anchor="end" font-weight="normal" fill="#231f20" >0</text>
<line x1="625.6" y1="409.7" x2="628.2" y2="409.7" stroke="#7d7d7d" stroke-width="0.9"/>
<text x="623.6" y="413.4" font-size="10.7" text-anchor="end" font-weight="normal" fill="#231f20" >-5</text>
<line x1="625.6" y1="431.2" x2="628.2" y2="431.2" stroke="#7d7d7d" stroke-width="0.9"/>
<text x="623.6" y="434.9" font-size="10.7" text-anchor="end" font-weight="normal" fill="#231f20" >-10</text>
<line x1="625.6" y1="452.7" x2="628.2" y2="452.7" stroke="#7d7d7d" stroke-width="0.9"/>
<text x="623.6" y="456.4" font-size="10.7" text-anchor="end" font-weight="normal" fill="#231f20" >-15</text>
<line x1="625.6" y1="474.2" x2="628.2" y2="474.2" stroke="#7d7d7d" stroke-width="0.9"/>
<text x="623.6" y="477.9" font-size="10.7" text-anchor="end" font-weight="normal" fill="#231f20" >-20</text>
<line x1="626.6" y1="377.45" x2="628.2" y2="377.45" stroke="#7d7d7d" stroke-width="0.8"/>
<line x1="626.6" y1="398.95" x2="628.2" y2="398.95" stroke="#7d7d7d" stroke-width="0.8"/>
<line x1="626.6" y1="420.45" x2="628.2" y2="420.45" stroke="#7d7d7d" stroke-width="0.8"/>
<line x1="626.6" y1="441.95" x2="628.2" y2="441.95" stroke="#7d7d7d" stroke-width="0.8"/>
<line x1="626.6" y1="463.45" x2="628.2" y2="463.45" stroke="#7d7d7d" stroke-width="0.8"/>
<text x="700.85" y="501.4" font-size="11.6" text-anchor="middle" font-weight="normal" fill="#231f20" >Distance (Ang)</text>
<text transform="translate(600.9,429) rotate(-90)" font-size="11.6" text-anchor="middle" fill="#231f20">Planar average-potential (eV)</text>
<path d="M639.2,409.1 L640.84,435.5 L642.49,462.16 L644.42,464.09 L646.6,466.46 L649.06,445.82 L650.71,442.38 L652.76,432.92 L654.41,441.52 L655.89,445.82 L658.52,468.82 L662.22,468.82 L664.27,448.4 L665.92,443.24 L667.56,432.92 L669.2,442.38 L670.85,445.82 L673.31,466.46 L675.37,464.09 L677.42,460.87 L679.27,429.91 L681.12,410.99 L683.59,396.15 L687.29,384.97 L692.22,380.03 L698.38,376.59 L707.02,375 L719.35,375 L732.09,375 L737.02,374.27 L740.31,375.3 L744.42,377.02 L748.12,379.17 L752.23,381.96 L755.1,384.76 L756.75,387.47 L757.98,392.07 L759.21,397.23 L760.86,407.33" fill="none" stroke="#2342ad" stroke-width="1.7" stroke-linejoin="round" stroke-linecap="round"/>
<rect x="628.7" y="535" width="144.8" height="108.1" fill="none" stroke="#7d7d7d" stroke-width="1"/>
<line x1="639.2" y1="643.1" x2="639.2" y2="645.7" stroke="#7d7d7d" stroke-width="0.9"/>
<text x="639.2" y="656.9" font-size="10.7" text-anchor="middle" font-weight="normal" fill="#231f20" >0</text>
<line x1="680.4" y1="643.1" x2="680.4" y2="645.7" stroke="#7d7d7d" stroke-width="0.9"/>
<text x="680.4" y="656.9" font-size="10.7" text-anchor="middle" font-weight="normal" fill="#231f20" >10</text>
<line x1="721.6" y1="643.1" x2="721.6" y2="645.7" stroke="#7d7d7d" stroke-width="0.9"/>
<text x="721.6" y="656.9" font-size="10.7" text-anchor="middle" font-weight="normal" fill="#231f20" >20</text>
<line x1="762.8" y1="643.1" x2="762.8" y2="645.7" stroke="#7d7d7d" stroke-width="0.9"/>
<text x="762.8" y="656.9" font-size="10.7" text-anchor="middle" font-weight="normal" fill="#231f20" >30</text>
<line x1="659.8" y1="643.1" x2="659.8" y2="644.7" stroke="#7d7d7d" stroke-width="0.8"/>
<line x1="701" y1="643.1" x2="701" y2="644.7" stroke="#7d7d7d" stroke-width="0.8"/>
<line x1="742.2" y1="643.1" x2="742.2" y2="644.7" stroke="#7d7d7d" stroke-width="0.8"/>
<line x1="626.1" y1="555.2" x2="628.7" y2="555.2" stroke="#7d7d7d" stroke-width="0.9"/>
<text x="624.1" y="558.9" font-size="10.7" text-anchor="end" font-weight="normal" fill="#231f20" >0</text>
<line x1="626.1" y1="581" x2="628.7" y2="581" stroke="#7d7d7d" stroke-width="0.9"/>
<text x="624.1" y="584.7" font-size="10.7" text-anchor="end" font-weight="normal" fill="#231f20" >-5</text>
<line x1="626.1" y1="606.8" x2="628.7" y2="606.8" stroke="#7d7d7d" stroke-width="0.9"/>
<text x="624.1" y="610.5" font-size="10.7" text-anchor="end" font-weight="normal" fill="#231f20" >-10</text>
<line x1="626.1" y1="632.6" x2="628.7" y2="632.6" stroke="#7d7d7d" stroke-width="0.9"/>
<text x="624.1" y="636.3" font-size="10.7" text-anchor="end" font-weight="normal" fill="#231f20" >-15</text>
<line x1="627.1" y1="542.3" x2="628.7" y2="542.3" stroke="#7d7d7d" stroke-width="0.8"/>
<line x1="627.1" y1="568.1" x2="628.7" y2="568.1" stroke="#7d7d7d" stroke-width="0.8"/>
<line x1="627.1" y1="593.9" x2="628.7" y2="593.9" stroke="#7d7d7d" stroke-width="0.8"/>
<line x1="627.1" y1="619.7" x2="628.7" y2="619.7" stroke="#7d7d7d" stroke-width="0.8"/>
<text x="701.1" y="668.9" font-size="11.6" text-anchor="middle" font-weight="normal" fill="#231f20" >Distance (Ang)</text>
<text transform="translate(600.9,596.5) rotate(-90)" font-size="11.6" text-anchor="middle" fill="#231f20">Planar average-potential (eV)</text>
<path d="M639.2,566.45C639.82,572.52 639.9,570.08 641.26,586.68C642.62,603.27 642.5,608.61 643.73,621.76C644.97,634.92 644.51,627.13 645.38,630.54C646.25,633.94 645.87,632.96 646.62,633.12C647.36,633.27 646.99,634.3 647.85,631.05C648.72,627.8 648.26,629.17 649.5,622.28C650.74,615.39 650.61,613.2 651.97,608.09C653.33,602.98 652.8,605.25 654.03,605.25C655.27,605.25 654.55,601.43 656.09,608.09C657.64,614.75 657.82,619.78 659.18,627.44C660.54,635.1 659.82,631.16 660.62,633.63C661.43,636.11 661.12,635.7 661.86,635.7C662.6,635.7 662.23,636.42 663.1,633.63C663.96,630.85 663.45,633.68 664.74,626.41C666.04,619.13 665.94,615.73 667.42,609.38C668.91,603.03 668.39,605.1 669.69,605.25C670.99,605.41 670.39,604.17 671.75,609.9C673.11,615.62 672.98,619.08 674.22,624.34C675.46,629.61 674.88,628.52 675.87,627.44C676.86,626.36 676.53,629.87 677.52,620.73C678.5,611.6 678.05,610.93 679.16,597C680.28,583.06 679.86,585.19 681.22,574.29C682.58,563.39 681.84,567.37 683.7,560.67C685.55,553.97 684.81,556.07 687.4,551.95C690,547.83 689.51,549.22 692.35,546.94C695.19,544.67 694.66,545.56 696.88,544.36C699.1,543.17 697.6,543.84 699.76,542.97C701.93,542.1 701.87,541.52 704.09,541.47C706.31,541.43 704.71,542.52 707.18,542.82C709.65,543.11 709.12,543.07 712.33,542.45C715.54,541.84 714.86,540.89 717.89,540.75C720.92,540.61 719.95,540.29 722.42,541.99C724.9,543.69 723.54,543.6 726.13,546.43C728.73,549.26 728.48,547.9 731.08,551.43C733.67,554.96 733.05,554.28 734.78,558.19C736.51,562.11 736.23,562.6 736.84,564.49" fill="none" stroke="#2342ad" stroke-width="1.7" stroke-linejoin="round" stroke-linecap="round"/>
</svg></body></html>
